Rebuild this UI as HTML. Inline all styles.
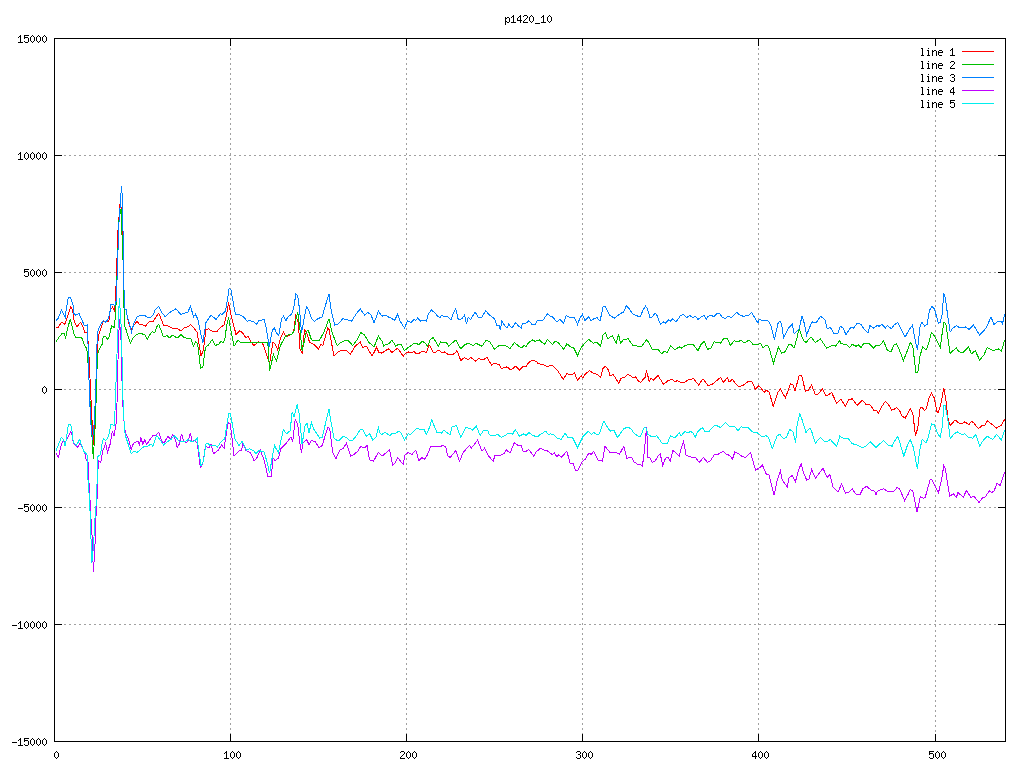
<!DOCTYPE html><html><head><meta charset="utf-8"><title>p1420_10</title><style>html,body{margin:0;padding:0;background:#fff;width:1024px;height:768px;overflow:hidden}body{font-family:"Liberation Sans",sans-serif}svg{display:block}</style></head><body>
<svg width="1024" height="768" viewBox="0 0 1024 768" shape-rendering="crispEdges">
<rect x="0" y="0" width="1024" height="768" fill="#fff"/>
<path fill="#a0a0a0" d="M54 155h2v1h-2zM59 155h2v1h-2zM64 155h2v1h-2zM69 155h2v1h-2zM74 155h2v1h-2zM79 155h2v1h-2zM84 155h2v1h-2zM89 155h2v1h-2zM94 155h2v1h-2zM99 155h2v1h-2zM104 155h2v1h-2zM109 155h2v1h-2zM114 155h2v1h-2zM119 155h2v1h-2zM124 155h2v1h-2zM129 155h2v1h-2zM134 155h2v1h-2zM139 155h2v1h-2zM144 155h2v1h-2zM149 155h2v1h-2zM154 155h2v1h-2zM159 155h2v1h-2zM164 155h2v1h-2zM169 155h2v1h-2zM174 155h2v1h-2zM179 155h2v1h-2zM184 155h2v1h-2zM189 155h2v1h-2zM194 155h2v1h-2zM199 155h2v1h-2zM204 155h2v1h-2zM209 155h2v1h-2zM214 155h2v1h-2zM219 155h2v1h-2zM224 155h2v1h-2zM229 155h2v1h-2zM234 155h2v1h-2zM239 155h2v1h-2zM244 155h2v1h-2zM249 155h2v1h-2zM254 155h2v1h-2zM259 155h2v1h-2zM264 155h2v1h-2zM269 155h2v1h-2zM274 155h2v1h-2zM279 155h2v1h-2zM284 155h2v1h-2zM289 155h2v1h-2zM294 155h2v1h-2zM299 155h2v1h-2zM304 155h2v1h-2zM309 155h2v1h-2zM314 155h2v1h-2zM319 155h2v1h-2zM324 155h2v1h-2zM329 155h2v1h-2zM334 155h2v1h-2zM339 155h2v1h-2zM344 155h2v1h-2zM349 155h2v1h-2zM354 155h2v1h-2zM359 155h2v1h-2zM364 155h2v1h-2zM369 155h2v1h-2zM374 155h2v1h-2zM379 155h2v1h-2zM384 155h2v1h-2zM389 155h2v1h-2zM394 155h2v1h-2zM399 155h2v1h-2zM404 155h2v1h-2zM409 155h2v1h-2zM414 155h2v1h-2zM419 155h2v1h-2zM424 155h2v1h-2zM429 155h2v1h-2zM434 155h2v1h-2zM439 155h2v1h-2zM444 155h2v1h-2zM449 155h2v1h-2zM454 155h2v1h-2zM459 155h2v1h-2zM464 155h2v1h-2zM469 155h2v1h-2zM474 155h2v1h-2zM479 155h2v1h-2zM484 155h2v1h-2zM489 155h2v1h-2zM494 155h2v1h-2zM499 155h2v1h-2zM504 155h2v1h-2zM509 155h2v1h-2zM514 155h2v1h-2zM519 155h2v1h-2zM524 155h2v1h-2zM529 155h2v1h-2zM534 155h2v1h-2zM539 155h2v1h-2zM544 155h2v1h-2zM549 155h2v1h-2zM554 155h2v1h-2zM559 155h2v1h-2zM564 155h2v1h-2zM569 155h2v1h-2zM574 155h2v1h-2zM579 155h2v1h-2zM584 155h2v1h-2zM589 155h2v1h-2zM594 155h2v1h-2zM599 155h2v1h-2zM604 155h2v1h-2zM609 155h2v1h-2zM614 155h2v1h-2zM619 155h2v1h-2zM624 155h2v1h-2zM629 155h2v1h-2zM634 155h2v1h-2zM639 155h2v1h-2zM644 155h2v1h-2zM649 155h2v1h-2zM654 155h2v1h-2zM659 155h2v1h-2zM664 155h2v1h-2zM669 155h2v1h-2zM674 155h2v1h-2zM679 155h2v1h-2zM684 155h2v1h-2zM689 155h2v1h-2zM694 155h2v1h-2zM699 155h2v1h-2zM704 155h2v1h-2zM709 155h2v1h-2zM714 155h2v1h-2zM719 155h2v1h-2zM724 155h2v1h-2zM729 155h2v1h-2zM734 155h2v1h-2zM739 155h2v1h-2zM744 155h2v1h-2zM749 155h2v1h-2zM754 155h2v1h-2zM759 155h2v1h-2zM764 155h2v1h-2zM769 155h2v1h-2zM774 155h2v1h-2zM779 155h2v1h-2zM784 155h2v1h-2zM789 155h2v1h-2zM794 155h2v1h-2zM799 155h2v1h-2zM804 155h2v1h-2zM809 155h2v1h-2zM814 155h2v1h-2zM819 155h2v1h-2zM824 155h2v1h-2zM829 155h2v1h-2zM834 155h2v1h-2zM839 155h2v1h-2zM844 155h2v1h-2zM849 155h2v1h-2zM854 155h2v1h-2zM859 155h2v1h-2zM864 155h2v1h-2zM869 155h2v1h-2zM874 155h2v1h-2zM879 155h2v1h-2zM884 155h2v1h-2zM889 155h2v1h-2zM894 155h2v1h-2zM899 155h2v1h-2zM904 155h2v1h-2zM909 155h2v1h-2zM914 155h2v1h-2zM919 155h2v1h-2zM924 155h2v1h-2zM929 155h2v1h-2zM934 155h2v1h-2zM939 155h2v1h-2zM944 155h2v1h-2zM949 155h2v1h-2zM954 155h2v1h-2zM959 155h2v1h-2zM964 155h2v1h-2zM969 155h2v1h-2zM974 155h2v1h-2zM979 155h2v1h-2zM984 155h2v1h-2zM989 155h2v1h-2zM994 155h2v1h-2zM999 155h2v1h-2zM1004 155h2v1h-2zM54 272h2v1h-2zM59 272h2v1h-2zM64 272h2v1h-2zM69 272h2v1h-2zM74 272h2v1h-2zM79 272h2v1h-2zM84 272h2v1h-2zM89 272h2v1h-2zM94 272h2v1h-2zM99 272h2v1h-2zM104 272h2v1h-2zM109 272h2v1h-2zM114 272h2v1h-2zM119 272h2v1h-2zM124 272h2v1h-2zM129 272h2v1h-2zM134 272h2v1h-2zM139 272h2v1h-2zM144 272h2v1h-2zM149 272h2v1h-2zM154 272h2v1h-2zM159 272h2v1h-2zM164 272h2v1h-2zM169 272h2v1h-2zM174 272h2v1h-2zM179 272h2v1h-2zM184 272h2v1h-2zM189 272h2v1h-2zM194 272h2v1h-2zM199 272h2v1h-2zM204 272h2v1h-2zM209 272h2v1h-2zM214 272h2v1h-2zM219 272h2v1h-2zM224 272h2v1h-2zM229 272h2v1h-2zM234 272h2v1h-2zM239 272h2v1h-2zM244 272h2v1h-2zM249 272h2v1h-2zM254 272h2v1h-2zM259 272h2v1h-2zM264 272h2v1h-2zM269 272h2v1h-2zM274 272h2v1h-2zM279 272h2v1h-2zM284 272h2v1h-2zM289 272h2v1h-2zM294 272h2v1h-2zM299 272h2v1h-2zM304 272h2v1h-2zM309 272h2v1h-2zM314 272h2v1h-2zM319 272h2v1h-2zM324 272h2v1h-2zM329 272h2v1h-2zM334 272h2v1h-2zM339 272h2v1h-2zM344 272h2v1h-2zM349 272h2v1h-2zM354 272h2v1h-2zM359 272h2v1h-2zM364 272h2v1h-2zM369 272h2v1h-2zM374 272h2v1h-2zM379 272h2v1h-2zM384 272h2v1h-2zM389 272h2v1h-2zM394 272h2v1h-2zM399 272h2v1h-2zM404 272h2v1h-2zM409 272h2v1h-2zM414 272h2v1h-2zM419 272h2v1h-2zM424 272h2v1h-2zM429 272h2v1h-2zM434 272h2v1h-2zM439 272h2v1h-2zM444 272h2v1h-2zM449 272h2v1h-2zM454 272h2v1h-2zM459 272h2v1h-2zM464 272h2v1h-2zM469 272h2v1h-2zM474 272h2v1h-2zM479 272h2v1h-2zM484 272h2v1h-2zM489 272h2v1h-2zM494 272h2v1h-2zM499 272h2v1h-2zM504 272h2v1h-2zM509 272h2v1h-2zM514 272h2v1h-2zM519 272h2v1h-2zM524 272h2v1h-2zM529 272h2v1h-2zM534 272h2v1h-2zM539 272h2v1h-2zM544 272h2v1h-2zM549 272h2v1h-2zM554 272h2v1h-2zM559 272h2v1h-2zM564 272h2v1h-2zM569 272h2v1h-2zM574 272h2v1h-2zM579 272h2v1h-2zM584 272h2v1h-2zM589 272h2v1h-2zM594 272h2v1h-2zM599 272h2v1h-2zM604 272h2v1h-2zM609 272h2v1h-2zM614 272h2v1h-2zM619 272h2v1h-2zM624 272h2v1h-2zM629 272h2v1h-2zM634 272h2v1h-2zM639 272h2v1h-2zM644 272h2v1h-2zM649 272h2v1h-2zM654 272h2v1h-2zM659 272h2v1h-2zM664 272h2v1h-2zM669 272h2v1h-2zM674 272h2v1h-2zM679 272h2v1h-2zM684 272h2v1h-2zM689 272h2v1h-2zM694 272h2v1h-2zM699 272h2v1h-2zM704 272h2v1h-2zM709 272h2v1h-2zM714 272h2v1h-2zM719 272h2v1h-2zM724 272h2v1h-2zM729 272h2v1h-2zM734 272h2v1h-2zM739 272h2v1h-2zM744 272h2v1h-2zM749 272h2v1h-2zM754 272h2v1h-2zM759 272h2v1h-2zM764 272h2v1h-2zM769 272h2v1h-2zM774 272h2v1h-2zM779 272h2v1h-2zM784 272h2v1h-2zM789 272h2v1h-2zM794 272h2v1h-2zM799 272h2v1h-2zM804 272h2v1h-2zM809 272h2v1h-2zM814 272h2v1h-2zM819 272h2v1h-2zM824 272h2v1h-2zM829 272h2v1h-2zM834 272h2v1h-2zM839 272h2v1h-2zM844 272h2v1h-2zM849 272h2v1h-2zM854 272h2v1h-2zM859 272h2v1h-2zM864 272h2v1h-2zM869 272h2v1h-2zM874 272h2v1h-2zM879 272h2v1h-2zM884 272h2v1h-2zM889 272h2v1h-2zM894 272h2v1h-2zM899 272h2v1h-2zM904 272h2v1h-2zM909 272h2v1h-2zM914 272h2v1h-2zM919 272h2v1h-2zM924 272h2v1h-2zM929 272h2v1h-2zM934 272h2v1h-2zM939 272h2v1h-2zM944 272h2v1h-2zM949 272h2v1h-2zM954 272h2v1h-2zM959 272h2v1h-2zM964 272h2v1h-2zM969 272h2v1h-2zM974 272h2v1h-2zM979 272h2v1h-2zM984 272h2v1h-2zM989 272h2v1h-2zM994 272h2v1h-2zM999 272h2v1h-2zM1004 272h2v1h-2zM54 389h2v1h-2zM59 389h2v1h-2zM64 389h2v1h-2zM69 389h2v1h-2zM74 389h2v1h-2zM79 389h2v1h-2zM84 389h2v1h-2zM89 389h2v1h-2zM94 389h2v1h-2zM99 389h2v1h-2zM104 389h2v1h-2zM109 389h2v1h-2zM114 389h2v1h-2zM119 389h2v1h-2zM124 389h2v1h-2zM129 389h2v1h-2zM134 389h2v1h-2zM139 389h2v1h-2zM144 389h2v1h-2zM149 389h2v1h-2zM154 389h2v1h-2zM159 389h2v1h-2zM164 389h2v1h-2zM169 389h2v1h-2zM174 389h2v1h-2zM179 389h2v1h-2zM184 389h2v1h-2zM189 389h2v1h-2zM194 389h2v1h-2zM199 389h2v1h-2zM204 389h2v1h-2zM209 389h2v1h-2zM214 389h2v1h-2zM219 389h2v1h-2zM224 389h2v1h-2zM229 389h2v1h-2zM234 389h2v1h-2zM239 389h2v1h-2zM244 389h2v1h-2zM249 389h2v1h-2zM254 389h2v1h-2zM259 389h2v1h-2zM264 389h2v1h-2zM269 389h2v1h-2zM274 389h2v1h-2zM279 389h2v1h-2zM284 389h2v1h-2zM289 389h2v1h-2zM294 389h2v1h-2zM299 389h2v1h-2zM304 389h2v1h-2zM309 389h2v1h-2zM314 389h2v1h-2zM319 389h2v1h-2zM324 389h2v1h-2zM329 389h2v1h-2zM334 389h2v1h-2zM339 389h2v1h-2zM344 389h2v1h-2zM349 389h2v1h-2zM354 389h2v1h-2zM359 389h2v1h-2zM364 389h2v1h-2zM369 389h2v1h-2zM374 389h2v1h-2zM379 389h2v1h-2zM384 389h2v1h-2zM389 389h2v1h-2zM394 389h2v1h-2zM399 389h2v1h-2zM404 389h2v1h-2zM409 389h2v1h-2zM414 389h2v1h-2zM419 389h2v1h-2zM424 389h2v1h-2zM429 389h2v1h-2zM434 389h2v1h-2zM439 389h2v1h-2zM444 389h2v1h-2zM449 389h2v1h-2zM454 389h2v1h-2zM459 389h2v1h-2zM464 389h2v1h-2zM469 389h2v1h-2zM474 389h2v1h-2zM479 389h2v1h-2zM484 389h2v1h-2zM489 389h2v1h-2zM494 389h2v1h-2zM499 389h2v1h-2zM504 389h2v1h-2zM509 389h2v1h-2zM514 389h2v1h-2zM519 389h2v1h-2zM524 389h2v1h-2zM529 389h2v1h-2zM534 389h2v1h-2zM539 389h2v1h-2zM544 389h2v1h-2zM549 389h2v1h-2zM554 389h2v1h-2zM559 389h2v1h-2zM564 389h2v1h-2zM569 389h2v1h-2zM574 389h2v1h-2zM579 389h2v1h-2zM584 389h2v1h-2zM589 389h2v1h-2zM594 389h2v1h-2zM599 389h2v1h-2zM604 389h2v1h-2zM609 389h2v1h-2zM614 389h2v1h-2zM619 389h2v1h-2zM624 389h2v1h-2zM629 389h2v1h-2zM634 389h2v1h-2zM639 389h2v1h-2zM644 389h2v1h-2zM649 389h2v1h-2zM654 389h2v1h-2zM659 389h2v1h-2zM664 389h2v1h-2zM669 389h2v1h-2zM674 389h2v1h-2zM679 389h2v1h-2zM684 389h2v1h-2zM689 389h2v1h-2zM694 389h2v1h-2zM699 389h2v1h-2zM704 389h2v1h-2zM709 389h2v1h-2zM714 389h2v1h-2zM719 389h2v1h-2zM724 389h2v1h-2zM729 389h2v1h-2zM734 389h2v1h-2zM739 389h2v1h-2zM744 389h2v1h-2zM749 389h2v1h-2zM754 389h2v1h-2zM759 389h2v1h-2zM764 389h2v1h-2zM769 389h2v1h-2zM774 389h2v1h-2zM779 389h2v1h-2zM784 389h2v1h-2zM789 389h2v1h-2zM794 389h2v1h-2zM799 389h2v1h-2zM804 389h2v1h-2zM809 389h2v1h-2zM814 389h2v1h-2zM819 389h2v1h-2zM824 389h2v1h-2zM829 389h2v1h-2zM834 389h2v1h-2zM839 389h2v1h-2zM844 389h2v1h-2zM849 389h2v1h-2zM854 389h2v1h-2zM859 389h2v1h-2zM864 389h2v1h-2zM869 389h2v1h-2zM874 389h2v1h-2zM879 389h2v1h-2zM884 389h2v1h-2zM889 389h2v1h-2zM894 389h2v1h-2zM899 389h2v1h-2zM904 389h2v1h-2zM909 389h2v1h-2zM914 389h2v1h-2zM919 389h2v1h-2zM924 389h2v1h-2zM929 389h2v1h-2zM934 389h2v1h-2zM939 389h2v1h-2zM944 389h2v1h-2zM949 389h2v1h-2zM954 389h2v1h-2zM959 389h2v1h-2zM964 389h2v1h-2zM969 389h2v1h-2zM974 389h2v1h-2zM979 389h2v1h-2zM984 389h2v1h-2zM989 389h2v1h-2zM994 389h2v1h-2zM999 389h2v1h-2zM1004 389h2v1h-2zM54 507h2v1h-2zM59 507h2v1h-2zM64 507h2v1h-2zM69 507h2v1h-2zM74 507h2v1h-2zM79 507h2v1h-2zM84 507h2v1h-2zM89 507h2v1h-2zM94 507h2v1h-2zM99 507h2v1h-2zM104 507h2v1h-2zM109 507h2v1h-2zM114 507h2v1h-2zM119 507h2v1h-2zM124 507h2v1h-2zM129 507h2v1h-2zM134 507h2v1h-2zM139 507h2v1h-2zM144 507h2v1h-2zM149 507h2v1h-2zM154 507h2v1h-2zM159 507h2v1h-2zM164 507h2v1h-2zM169 507h2v1h-2zM174 507h2v1h-2zM179 507h2v1h-2zM184 507h2v1h-2zM189 507h2v1h-2zM194 507h2v1h-2zM199 507h2v1h-2zM204 507h2v1h-2zM209 507h2v1h-2zM214 507h2v1h-2zM219 507h2v1h-2zM224 507h2v1h-2zM229 507h2v1h-2zM234 507h2v1h-2zM239 507h2v1h-2zM244 507h2v1h-2zM249 507h2v1h-2zM254 507h2v1h-2zM259 507h2v1h-2zM264 507h2v1h-2zM269 507h2v1h-2zM274 507h2v1h-2zM279 507h2v1h-2zM284 507h2v1h-2zM289 507h2v1h-2zM294 507h2v1h-2zM299 507h2v1h-2zM304 507h2v1h-2zM309 507h2v1h-2zM314 507h2v1h-2zM319 507h2v1h-2zM324 507h2v1h-2zM329 507h2v1h-2zM334 507h2v1h-2zM339 507h2v1h-2zM344 507h2v1h-2zM349 507h2v1h-2zM354 507h2v1h-2zM359 507h2v1h-2zM364 507h2v1h-2zM369 507h2v1h-2zM374 507h2v1h-2zM379 507h2v1h-2zM384 507h2v1h-2zM389 507h2v1h-2zM394 507h2v1h-2zM399 507h2v1h-2zM404 507h2v1h-2zM409 507h2v1h-2zM414 507h2v1h-2zM419 507h2v1h-2zM424 507h2v1h-2zM429 507h2v1h-2zM434 507h2v1h-2zM439 507h2v1h-2zM444 507h2v1h-2zM449 507h2v1h-2zM454 507h2v1h-2zM459 507h2v1h-2zM464 507h2v1h-2zM469 507h2v1h-2zM474 507h2v1h-2zM479 507h2v1h-2zM484 507h2v1h-2zM489 507h2v1h-2zM494 507h2v1h-2zM499 507h2v1h-2zM504 507h2v1h-2zM509 507h2v1h-2zM514 507h2v1h-2zM519 507h2v1h-2zM524 507h2v1h-2zM529 507h2v1h-2zM534 507h2v1h-2zM539 507h2v1h-2zM544 507h2v1h-2zM549 507h2v1h-2zM554 507h2v1h-2zM559 507h2v1h-2zM564 507h2v1h-2zM569 507h2v1h-2zM574 507h2v1h-2zM579 507h2v1h-2zM584 507h2v1h-2zM589 507h2v1h-2zM594 507h2v1h-2zM599 507h2v1h-2zM604 507h2v1h-2zM609 507h2v1h-2zM614 507h2v1h-2zM619 507h2v1h-2zM624 507h2v1h-2zM629 507h2v1h-2zM634 507h2v1h-2zM639 507h2v1h-2zM644 507h2v1h-2zM649 507h2v1h-2zM654 507h2v1h-2zM659 507h2v1h-2zM664 507h2v1h-2zM669 507h2v1h-2zM674 507h2v1h-2zM679 507h2v1h-2zM684 507h2v1h-2zM689 507h2v1h-2zM694 507h2v1h-2zM699 507h2v1h-2zM704 507h2v1h-2zM709 507h2v1h-2zM714 507h2v1h-2zM719 507h2v1h-2zM724 507h2v1h-2zM729 507h2v1h-2zM734 507h2v1h-2zM739 507h2v1h-2zM744 507h2v1h-2zM749 507h2v1h-2zM754 507h2v1h-2zM759 507h2v1h-2zM764 507h2v1h-2zM769 507h2v1h-2zM774 507h2v1h-2zM779 507h2v1h-2zM784 507h2v1h-2zM789 507h2v1h-2zM794 507h2v1h-2zM799 507h2v1h-2zM804 507h2v1h-2zM809 507h2v1h-2zM814 507h2v1h-2zM819 507h2v1h-2zM824 507h2v1h-2zM829 507h2v1h-2zM834 507h2v1h-2zM839 507h2v1h-2zM844 507h2v1h-2zM849 507h2v1h-2zM854 507h2v1h-2zM859 507h2v1h-2zM864 507h2v1h-2zM869 507h2v1h-2zM874 507h2v1h-2zM879 507h2v1h-2zM884 507h2v1h-2zM889 507h2v1h-2zM894 507h2v1h-2zM899 507h2v1h-2zM904 507h2v1h-2zM909 507h2v1h-2zM914 507h2v1h-2zM919 507h2v1h-2zM924 507h2v1h-2zM929 507h2v1h-2zM934 507h2v1h-2zM939 507h2v1h-2zM944 507h2v1h-2zM949 507h2v1h-2zM954 507h2v1h-2zM959 507h2v1h-2zM964 507h2v1h-2zM969 507h2v1h-2zM974 507h2v1h-2zM979 507h2v1h-2zM984 507h2v1h-2zM989 507h2v1h-2zM994 507h2v1h-2zM999 507h2v1h-2zM1004 507h2v1h-2zM54 624h2v1h-2zM59 624h2v1h-2zM64 624h2v1h-2zM69 624h2v1h-2zM74 624h2v1h-2zM79 624h2v1h-2zM84 624h2v1h-2zM89 624h2v1h-2zM94 624h2v1h-2zM99 624h2v1h-2zM104 624h2v1h-2zM109 624h2v1h-2zM114 624h2v1h-2zM119 624h2v1h-2zM124 624h2v1h-2zM129 624h2v1h-2zM134 624h2v1h-2zM139 624h2v1h-2zM144 624h2v1h-2zM149 624h2v1h-2zM154 624h2v1h-2zM159 624h2v1h-2zM164 624h2v1h-2zM169 624h2v1h-2zM174 624h2v1h-2zM179 624h2v1h-2zM184 624h2v1h-2zM189 624h2v1h-2zM194 624h2v1h-2zM199 624h2v1h-2zM204 624h2v1h-2zM209 624h2v1h-2zM214 624h2v1h-2zM219 624h2v1h-2zM224 624h2v1h-2zM229 624h2v1h-2zM234 624h2v1h-2zM239 624h2v1h-2zM244 624h2v1h-2zM249 624h2v1h-2zM254 624h2v1h-2zM259 624h2v1h-2zM264 624h2v1h-2zM269 624h2v1h-2zM274 624h2v1h-2zM279 624h2v1h-2zM284 624h2v1h-2zM289 624h2v1h-2zM294 624h2v1h-2zM299 624h2v1h-2zM304 624h2v1h-2zM309 624h2v1h-2zM314 624h2v1h-2zM319 624h2v1h-2zM324 624h2v1h-2zM329 624h2v1h-2zM334 624h2v1h-2zM339 624h2v1h-2zM344 624h2v1h-2zM349 624h2v1h-2zM354 624h2v1h-2zM359 624h2v1h-2zM364 624h2v1h-2zM369 624h2v1h-2zM374 624h2v1h-2zM379 624h2v1h-2zM384 624h2v1h-2zM389 624h2v1h-2zM394 624h2v1h-2zM399 624h2v1h-2zM404 624h2v1h-2zM409 624h2v1h-2zM414 624h2v1h-2zM419 624h2v1h-2zM424 624h2v1h-2zM429 624h2v1h-2zM434 624h2v1h-2zM439 624h2v1h-2zM444 624h2v1h-2zM449 624h2v1h-2zM454 624h2v1h-2zM459 624h2v1h-2zM464 624h2v1h-2zM469 624h2v1h-2zM474 624h2v1h-2zM479 624h2v1h-2zM484 624h2v1h-2zM489 624h2v1h-2zM494 624h2v1h-2zM499 624h2v1h-2zM504 624h2v1h-2zM509 624h2v1h-2zM514 624h2v1h-2zM519 624h2v1h-2zM524 624h2v1h-2zM529 624h2v1h-2zM534 624h2v1h-2zM539 624h2v1h-2zM544 624h2v1h-2zM549 624h2v1h-2zM554 624h2v1h-2zM559 624h2v1h-2zM564 624h2v1h-2zM569 624h2v1h-2zM574 624h2v1h-2zM579 624h2v1h-2zM584 624h2v1h-2zM589 624h2v1h-2zM594 624h2v1h-2zM599 624h2v1h-2zM604 624h2v1h-2zM609 624h2v1h-2zM614 624h2v1h-2zM619 624h2v1h-2zM624 624h2v1h-2zM629 624h2v1h-2zM634 624h2v1h-2zM639 624h2v1h-2zM644 624h2v1h-2zM649 624h2v1h-2zM654 624h2v1h-2zM659 624h2v1h-2zM664 624h2v1h-2zM669 624h2v1h-2zM674 624h2v1h-2zM679 624h2v1h-2zM684 624h2v1h-2zM689 624h2v1h-2zM694 624h2v1h-2zM699 624h2v1h-2zM704 624h2v1h-2zM709 624h2v1h-2zM714 624h2v1h-2zM719 624h2v1h-2zM724 624h2v1h-2zM729 624h2v1h-2zM734 624h2v1h-2zM739 624h2v1h-2zM744 624h2v1h-2zM749 624h2v1h-2zM754 624h2v1h-2zM759 624h2v1h-2zM764 624h2v1h-2zM769 624h2v1h-2zM774 624h2v1h-2zM779 624h2v1h-2zM784 624h2v1h-2zM789 624h2v1h-2zM794 624h2v1h-2zM799 624h2v1h-2zM804 624h2v1h-2zM809 624h2v1h-2zM814 624h2v1h-2zM819 624h2v1h-2zM824 624h2v1h-2zM829 624h2v1h-2zM834 624h2v1h-2zM839 624h2v1h-2zM844 624h2v1h-2zM849 624h2v1h-2zM854 624h2v1h-2zM859 624h2v1h-2zM864 624h2v1h-2zM869 624h2v1h-2zM874 624h2v1h-2zM879 624h2v1h-2zM884 624h2v1h-2zM889 624h2v1h-2zM894 624h2v1h-2zM899 624h2v1h-2zM904 624h2v1h-2zM909 624h2v1h-2zM914 624h2v1h-2zM919 624h2v1h-2zM924 624h2v1h-2zM929 624h2v1h-2zM934 624h2v1h-2zM939 624h2v1h-2zM944 624h2v1h-2zM949 624h2v1h-2zM954 624h2v1h-2zM959 624h2v1h-2zM964 624h2v1h-2zM969 624h2v1h-2zM974 624h2v1h-2zM979 624h2v1h-2zM984 624h2v1h-2zM989 624h2v1h-2zM994 624h2v1h-2zM999 624h2v1h-2zM1004 624h2v1h-2zM230 38h1v2h-1zM230 43h1v2h-1zM230 48h1v2h-1zM230 53h1v2h-1zM230 58h1v2h-1zM230 63h1v2h-1zM230 68h1v2h-1zM230 73h1v2h-1zM230 78h1v2h-1zM230 83h1v2h-1zM230 88h1v2h-1zM230 93h1v2h-1zM230 98h1v2h-1zM230 103h1v2h-1zM230 108h1v2h-1zM230 113h1v2h-1zM230 118h1v2h-1zM230 123h1v2h-1zM230 128h1v2h-1zM230 133h1v2h-1zM230 138h1v2h-1zM230 143h1v2h-1zM230 148h1v2h-1zM230 153h1v2h-1zM230 158h1v2h-1zM230 163h1v2h-1zM230 168h1v2h-1zM230 173h1v2h-1zM230 178h1v2h-1zM230 183h1v2h-1zM230 188h1v2h-1zM230 193h1v2h-1zM230 198h1v2h-1zM230 203h1v2h-1zM230 208h1v2h-1zM230 213h1v2h-1zM230 218h1v2h-1zM230 223h1v2h-1zM230 228h1v2h-1zM230 233h1v2h-1zM230 238h1v2h-1zM230 243h1v2h-1zM230 248h1v2h-1zM230 253h1v2h-1zM230 258h1v2h-1zM230 263h1v2h-1zM230 268h1v2h-1zM230 273h1v2h-1zM230 278h1v2h-1zM230 283h1v2h-1zM230 288h1v2h-1zM230 293h1v2h-1zM230 298h1v2h-1zM230 303h1v2h-1zM230 308h1v2h-1zM230 313h1v2h-1zM230 318h1v2h-1zM230 323h1v2h-1zM230 328h1v2h-1zM230 333h1v2h-1zM230 338h1v2h-1zM230 343h1v2h-1zM230 348h1v2h-1zM230 353h1v2h-1zM230 358h1v2h-1zM230 363h1v2h-1zM230 368h1v2h-1zM230 373h1v2h-1zM230 378h1v2h-1zM230 383h1v2h-1zM230 388h1v2h-1zM230 393h1v2h-1zM230 398h1v2h-1zM230 403h1v2h-1zM230 408h1v2h-1zM230 413h1v2h-1zM230 418h1v2h-1zM230 423h1v2h-1zM230 428h1v2h-1zM230 433h1v2h-1zM230 438h1v2h-1zM230 443h1v2h-1zM230 448h1v2h-1zM230 453h1v2h-1zM230 458h1v2h-1zM230 463h1v2h-1zM230 468h1v2h-1zM230 473h1v2h-1zM230 478h1v2h-1zM230 483h1v2h-1zM230 488h1v2h-1zM230 493h1v2h-1zM230 498h1v2h-1zM230 503h1v2h-1zM230 508h1v2h-1zM230 513h1v2h-1zM230 518h1v2h-1zM230 523h1v2h-1zM230 528h1v2h-1zM230 533h1v2h-1zM230 538h1v2h-1zM230 543h1v2h-1zM230 548h1v2h-1zM230 553h1v2h-1zM230 558h1v2h-1zM230 563h1v2h-1zM230 568h1v2h-1zM230 573h1v2h-1zM230 578h1v2h-1zM230 583h1v2h-1zM230 588h1v2h-1zM230 593h1v2h-1zM230 598h1v2h-1zM230 603h1v2h-1zM230 608h1v2h-1zM230 613h1v2h-1zM230 618h1v2h-1zM230 623h1v2h-1zM230 628h1v2h-1zM230 633h1v2h-1zM230 638h1v2h-1zM230 643h1v2h-1zM230 648h1v2h-1zM230 653h1v2h-1zM230 658h1v2h-1zM230 663h1v2h-1zM230 668h1v2h-1zM230 673h1v2h-1zM230 678h1v2h-1zM230 683h1v2h-1zM230 688h1v2h-1zM230 693h1v2h-1zM230 698h1v2h-1zM230 703h1v2h-1zM230 708h1v2h-1zM230 713h1v2h-1zM230 718h1v2h-1zM230 723h1v2h-1zM230 728h1v2h-1zM230 733h1v2h-1zM230 738h1v2h-1zM406 38h1v2h-1zM406 43h1v2h-1zM406 48h1v2h-1zM406 53h1v2h-1zM406 58h1v2h-1zM406 63h1v2h-1zM406 68h1v2h-1zM406 73h1v2h-1zM406 78h1v2h-1zM406 83h1v2h-1zM406 88h1v2h-1zM406 93h1v2h-1zM406 98h1v2h-1zM406 103h1v2h-1zM406 108h1v2h-1zM406 113h1v2h-1zM406 118h1v2h-1zM406 123h1v2h-1zM406 128h1v2h-1zM406 133h1v2h-1zM406 138h1v2h-1zM406 143h1v2h-1zM406 148h1v2h-1zM406 153h1v2h-1zM406 158h1v2h-1zM406 163h1v2h-1zM406 168h1v2h-1zM406 173h1v2h-1zM406 178h1v2h-1zM406 183h1v2h-1zM406 188h1v2h-1zM406 193h1v2h-1zM406 198h1v2h-1zM406 203h1v2h-1zM406 208h1v2h-1zM406 213h1v2h-1zM406 218h1v2h-1zM406 223h1v2h-1zM406 228h1v2h-1zM406 233h1v2h-1zM406 238h1v2h-1zM406 243h1v2h-1zM406 248h1v2h-1zM406 253h1v2h-1zM406 258h1v2h-1zM406 263h1v2h-1zM406 268h1v2h-1zM406 273h1v2h-1zM406 278h1v2h-1zM406 283h1v2h-1zM406 288h1v2h-1zM406 293h1v2h-1zM406 298h1v2h-1zM406 303h1v2h-1zM406 308h1v2h-1zM406 313h1v2h-1zM406 318h1v2h-1zM406 323h1v2h-1zM406 328h1v2h-1zM406 333h1v2h-1zM406 338h1v2h-1zM406 343h1v2h-1zM406 348h1v2h-1zM406 353h1v2h-1zM406 358h1v2h-1zM406 363h1v2h-1zM406 368h1v2h-1zM406 373h1v2h-1zM406 378h1v2h-1zM406 383h1v2h-1zM406 388h1v2h-1zM406 393h1v2h-1zM406 398h1v2h-1zM406 403h1v2h-1zM406 408h1v2h-1zM406 413h1v2h-1zM406 418h1v2h-1zM406 423h1v2h-1zM406 428h1v2h-1zM406 433h1v2h-1zM406 438h1v2h-1zM406 443h1v2h-1zM406 448h1v2h-1zM406 453h1v2h-1zM406 458h1v2h-1zM406 463h1v2h-1zM406 468h1v2h-1zM406 473h1v2h-1zM406 478h1v2h-1zM406 483h1v2h-1zM406 488h1v2h-1zM406 493h1v2h-1zM406 498h1v2h-1zM406 503h1v2h-1zM406 508h1v2h-1zM406 513h1v2h-1zM406 518h1v2h-1zM406 523h1v2h-1zM406 528h1v2h-1zM406 533h1v2h-1zM406 538h1v2h-1zM406 543h1v2h-1zM406 548h1v2h-1zM406 553h1v2h-1zM406 558h1v2h-1zM406 563h1v2h-1zM406 568h1v2h-1zM406 573h1v2h-1zM406 578h1v2h-1zM406 583h1v2h-1zM406 588h1v2h-1zM406 593h1v2h-1zM406 598h1v2h-1zM406 603h1v2h-1zM406 608h1v2h-1zM406 613h1v2h-1zM406 618h1v2h-1zM406 623h1v2h-1zM406 628h1v2h-1zM406 633h1v2h-1zM406 638h1v2h-1zM406 643h1v2h-1zM406 648h1v2h-1zM406 653h1v2h-1zM406 658h1v2h-1zM406 663h1v2h-1zM406 668h1v2h-1zM406 673h1v2h-1zM406 678h1v2h-1zM406 683h1v2h-1zM406 688h1v2h-1zM406 693h1v2h-1zM406 698h1v2h-1zM406 703h1v2h-1zM406 708h1v2h-1zM406 713h1v2h-1zM406 718h1v2h-1zM406 723h1v2h-1zM406 728h1v2h-1zM406 733h1v2h-1zM406 738h1v2h-1zM582 38h1v2h-1zM582 43h1v2h-1zM582 48h1v2h-1zM582 53h1v2h-1zM582 58h1v2h-1zM582 63h1v2h-1zM582 68h1v2h-1zM582 73h1v2h-1zM582 78h1v2h-1zM582 83h1v2h-1zM582 88h1v2h-1zM582 93h1v2h-1zM582 98h1v2h-1zM582 103h1v2h-1zM582 108h1v2h-1zM582 113h1v2h-1zM582 118h1v2h-1zM582 123h1v2h-1zM582 128h1v2h-1zM582 133h1v2h-1zM582 138h1v2h-1zM582 143h1v2h-1zM582 148h1v2h-1zM582 153h1v2h-1zM582 158h1v2h-1zM582 163h1v2h-1zM582 168h1v2h-1zM582 173h1v2h-1zM582 178h1v2h-1zM582 183h1v2h-1zM582 188h1v2h-1zM582 193h1v2h-1zM582 198h1v2h-1zM582 203h1v2h-1zM582 208h1v2h-1zM582 213h1v2h-1zM582 218h1v2h-1zM582 223h1v2h-1zM582 228h1v2h-1zM582 233h1v2h-1zM582 238h1v2h-1zM582 243h1v2h-1zM582 248h1v2h-1zM582 253h1v2h-1zM582 258h1v2h-1zM582 263h1v2h-1zM582 268h1v2h-1zM582 273h1v2h-1zM582 278h1v2h-1zM582 283h1v2h-1zM582 288h1v2h-1zM582 293h1v2h-1zM582 298h1v2h-1zM582 303h1v2h-1zM582 308h1v2h-1zM582 313h1v2h-1zM582 318h1v2h-1zM582 323h1v2h-1zM582 328h1v2h-1zM582 333h1v2h-1zM582 338h1v2h-1zM582 343h1v2h-1zM582 348h1v2h-1zM582 353h1v2h-1zM582 358h1v2h-1zM582 363h1v2h-1zM582 368h1v2h-1zM582 373h1v2h-1zM582 378h1v2h-1zM582 383h1v2h-1zM582 388h1v2h-1zM582 393h1v2h-1zM582 398h1v2h-1zM582 403h1v2h-1zM582 408h1v2h-1zM582 413h1v2h-1zM582 418h1v2h-1zM582 423h1v2h-1zM582 428h1v2h-1zM582 433h1v2h-1zM582 438h1v2h-1zM582 443h1v2h-1zM582 448h1v2h-1zM582 453h1v2h-1zM582 458h1v2h-1zM582 463h1v2h-1zM582 468h1v2h-1zM582 473h1v2h-1zM582 478h1v2h-1zM582 483h1v2h-1zM582 488h1v2h-1zM582 493h1v2h-1zM582 498h1v2h-1zM582 503h1v2h-1zM582 508h1v2h-1zM582 513h1v2h-1zM582 518h1v2h-1zM582 523h1v2h-1zM582 528h1v2h-1zM582 533h1v2h-1zM582 538h1v2h-1zM582 543h1v2h-1zM582 548h1v2h-1zM582 553h1v2h-1zM582 558h1v2h-1zM582 563h1v2h-1zM582 568h1v2h-1zM582 573h1v2h-1zM582 578h1v2h-1zM582 583h1v2h-1zM582 588h1v2h-1zM582 593h1v2h-1zM582 598h1v2h-1zM582 603h1v2h-1zM582 608h1v2h-1zM582 613h1v2h-1zM582 618h1v2h-1zM582 623h1v2h-1zM582 628h1v2h-1zM582 633h1v2h-1zM582 638h1v2h-1zM582 643h1v2h-1zM582 648h1v2h-1zM582 653h1v2h-1zM582 658h1v2h-1zM582 663h1v2h-1zM582 668h1v2h-1zM582 673h1v2h-1zM582 678h1v2h-1zM582 683h1v2h-1zM582 688h1v2h-1zM582 693h1v2h-1zM582 698h1v2h-1zM582 703h1v2h-1zM582 708h1v2h-1zM582 713h1v2h-1zM582 718h1v2h-1zM582 723h1v2h-1zM582 728h1v2h-1zM582 733h1v2h-1zM582 738h1v2h-1zM758 38h1v2h-1zM758 43h1v2h-1zM758 48h1v2h-1zM758 53h1v2h-1zM758 58h1v2h-1zM758 63h1v2h-1zM758 68h1v2h-1zM758 73h1v2h-1zM758 78h1v2h-1zM758 83h1v2h-1zM758 88h1v2h-1zM758 93h1v2h-1zM758 98h1v2h-1zM758 103h1v2h-1zM758 108h1v2h-1zM758 113h1v2h-1zM758 118h1v2h-1zM758 123h1v2h-1zM758 128h1v2h-1zM758 133h1v2h-1zM758 138h1v2h-1zM758 143h1v2h-1zM758 148h1v2h-1zM758 153h1v2h-1zM758 158h1v2h-1zM758 163h1v2h-1zM758 168h1v2h-1zM758 173h1v2h-1zM758 178h1v2h-1zM758 183h1v2h-1zM758 188h1v2h-1zM758 193h1v2h-1zM758 198h1v2h-1zM758 203h1v2h-1zM758 208h1v2h-1zM758 213h1v2h-1zM758 218h1v2h-1zM758 223h1v2h-1zM758 228h1v2h-1zM758 233h1v2h-1zM758 238h1v2h-1zM758 243h1v2h-1zM758 248h1v2h-1zM758 253h1v2h-1zM758 258h1v2h-1zM758 263h1v2h-1zM758 268h1v2h-1zM758 273h1v2h-1zM758 278h1v2h-1zM758 283h1v2h-1zM758 288h1v2h-1zM758 293h1v2h-1zM758 298h1v2h-1zM758 303h1v2h-1zM758 308h1v2h-1zM758 313h1v2h-1zM758 318h1v2h-1zM758 323h1v2h-1zM758 328h1v2h-1zM758 333h1v2h-1zM758 338h1v2h-1zM758 343h1v2h-1zM758 348h1v2h-1zM758 353h1v2h-1zM758 358h1v2h-1zM758 363h1v2h-1zM758 368h1v2h-1zM758 373h1v2h-1zM758 378h1v2h-1zM758 383h1v2h-1zM758 388h1v2h-1zM758 393h1v2h-1zM758 398h1v2h-1zM758 403h1v2h-1zM758 408h1v2h-1zM758 413h1v2h-1zM758 418h1v2h-1zM758 423h1v2h-1zM758 428h1v2h-1zM758 433h1v2h-1zM758 438h1v2h-1zM758 443h1v2h-1zM758 448h1v2h-1zM758 453h1v2h-1zM758 458h1v2h-1zM758 463h1v2h-1zM758 468h1v2h-1zM758 473h1v2h-1zM758 478h1v2h-1zM758 483h1v2h-1zM758 488h1v2h-1zM758 493h1v2h-1zM758 498h1v2h-1zM758 503h1v2h-1zM758 508h1v2h-1zM758 513h1v2h-1zM758 518h1v2h-1zM758 523h1v2h-1zM758 528h1v2h-1zM758 533h1v2h-1zM758 538h1v2h-1zM758 543h1v2h-1zM758 548h1v2h-1zM758 553h1v2h-1zM758 558h1v2h-1zM758 563h1v2h-1zM758 568h1v2h-1zM758 573h1v2h-1zM758 578h1v2h-1zM758 583h1v2h-1zM758 588h1v2h-1zM758 593h1v2h-1zM758 598h1v2h-1zM758 603h1v2h-1zM758 608h1v2h-1zM758 613h1v2h-1zM758 618h1v2h-1zM758 623h1v2h-1zM758 628h1v2h-1zM758 633h1v2h-1zM758 638h1v2h-1zM758 643h1v2h-1zM758 648h1v2h-1zM758 653h1v2h-1zM758 658h1v2h-1zM758 663h1v2h-1zM758 668h1v2h-1zM758 673h1v2h-1zM758 678h1v2h-1zM758 683h1v2h-1zM758 688h1v2h-1zM758 693h1v2h-1zM758 698h1v2h-1zM758 703h1v2h-1zM758 708h1v2h-1zM758 713h1v2h-1zM758 718h1v2h-1zM758 723h1v2h-1zM758 728h1v2h-1zM758 733h1v2h-1zM758 738h1v2h-1zM935 110h1v2h-1zM935 115h1v2h-1zM935 120h1v2h-1zM935 125h1v2h-1zM935 130h1v2h-1zM935 135h1v2h-1zM935 140h1v2h-1zM935 145h1v2h-1zM935 150h1v2h-1zM935 155h1v2h-1zM935 160h1v2h-1zM935 165h1v2h-1zM935 170h1v2h-1zM935 175h1v2h-1zM935 180h1v2h-1zM935 185h1v2h-1zM935 190h1v2h-1zM935 195h1v2h-1zM935 200h1v2h-1zM935 205h1v2h-1zM935 210h1v2h-1zM935 215h1v2h-1zM935 220h1v2h-1zM935 225h1v2h-1zM935 230h1v2h-1zM935 235h1v2h-1zM935 240h1v2h-1zM935 245h1v2h-1zM935 250h1v2h-1zM935 255h1v2h-1zM935 260h1v2h-1zM935 265h1v2h-1zM935 270h1v2h-1zM935 275h1v2h-1zM935 280h1v2h-1zM935 285h1v2h-1zM935 290h1v2h-1zM935 295h1v2h-1zM935 300h1v2h-1zM935 305h1v2h-1zM935 310h1v2h-1zM935 315h1v2h-1zM935 320h1v2h-1zM935 325h1v2h-1zM935 330h1v2h-1zM935 335h1v2h-1zM935 340h1v2h-1zM935 345h1v2h-1zM935 350h1v2h-1zM935 355h1v2h-1zM935 360h1v2h-1zM935 365h1v2h-1zM935 370h1v2h-1zM935 375h1v2h-1zM935 380h1v2h-1zM935 385h1v2h-1zM935 390h1v2h-1zM935 395h1v2h-1zM935 400h1v2h-1zM935 405h1v2h-1zM935 410h1v2h-1zM935 415h1v2h-1zM935 420h1v2h-1zM935 425h1v2h-1zM935 430h1v2h-1zM935 435h1v2h-1zM935 440h1v2h-1zM935 445h1v2h-1zM935 450h1v2h-1zM935 455h1v2h-1zM935 460h1v2h-1zM935 465h1v2h-1zM935 470h1v2h-1zM935 475h1v2h-1zM935 480h1v2h-1zM935 485h1v2h-1zM935 490h1v2h-1zM935 495h1v2h-1zM935 500h1v2h-1zM935 505h1v2h-1zM935 510h1v2h-1zM935 515h1v2h-1zM935 520h1v2h-1zM935 525h1v2h-1zM935 530h1v2h-1zM935 535h1v2h-1zM935 540h1v2h-1zM935 545h1v2h-1zM935 550h1v2h-1zM935 555h1v2h-1zM935 560h1v2h-1zM935 565h1v2h-1zM935 570h1v2h-1zM935 575h1v2h-1zM935 580h1v2h-1zM935 585h1v2h-1zM935 590h1v2h-1zM935 595h1v2h-1zM935 600h1v2h-1zM935 605h1v2h-1zM935 610h1v2h-1zM935 615h1v2h-1zM935 620h1v2h-1zM935 625h1v2h-1zM935 630h1v2h-1zM935 635h1v2h-1zM935 640h1v2h-1zM935 645h1v2h-1zM935 650h1v2h-1zM935 655h1v2h-1zM935 660h1v2h-1zM935 665h1v2h-1zM935 670h1v2h-1zM935 675h1v2h-1zM935 680h1v2h-1zM935 685h1v2h-1zM935 690h1v2h-1zM935 695h1v2h-1zM935 700h1v2h-1zM935 705h1v2h-1zM935 710h1v2h-1zM935 715h1v2h-1zM935 720h1v2h-1zM935 725h1v2h-1zM935 730h1v2h-1zM935 735h1v2h-1zM935 740h1v2h-1z"/>
<path fill="#000" d="M54 38h952v1h-952zM54 741h952v1h-952zM54 38h1v704h-1zM1005 38h1v704h-1zM54 38h8v1h-8zM998 38h8v1h-8zM54 155h8v1h-8zM998 155h8v1h-8zM54 272h8v1h-8zM998 272h8v1h-8zM54 389h8v1h-8zM998 389h8v1h-8zM54 507h8v1h-8zM998 507h8v1h-8zM54 624h8v1h-8zM998 624h8v1h-8zM54 741h8v1h-8zM998 741h8v1h-8zM54 734h1v8h-1zM54 38h1v8h-1zM230 734h1v8h-1zM230 38h1v8h-1zM406 734h1v8h-1zM406 38h1v8h-1zM582 734h1v8h-1zM582 38h1v8h-1zM758 734h1v8h-1zM758 38h1v8h-1zM935 734h1v8h-1zM935 38h1v8h-1zM20 35h1v1h-1zM19 36h2v1h-2zM18 37h1v1h-1zM20 37h1v1h-1zM20 38h1v1h-1zM20 39h1v1h-1zM20 40h1v1h-1zM20 41h1v1h-1zM18 42h5v1h-5zM24 35h5v1h-5zM24 36h1v1h-1zM24 37h4v1h-4zM24 38h1v1h-1zM28 38h1v1h-1zM28 39h1v1h-1zM28 40h1v1h-1zM24 41h1v1h-1zM28 41h1v1h-1zM25 42h3v1h-3zM32 35h1v1h-1zM31 36h1v1h-1zM33 36h1v1h-1zM30 37h1v1h-1zM34 37h1v1h-1zM30 38h1v1h-1zM34 38h1v1h-1zM30 39h1v1h-1zM34 39h1v1h-1zM30 40h1v1h-1zM34 40h1v1h-1zM31 41h1v1h-1zM33 41h1v1h-1zM32 42h1v1h-1zM38 35h1v1h-1zM37 36h1v1h-1zM39 36h1v1h-1zM36 37h1v1h-1zM40 37h1v1h-1zM36 38h1v1h-1zM40 38h1v1h-1zM36 39h1v1h-1zM40 39h1v1h-1zM36 40h1v1h-1zM40 40h1v1h-1zM37 41h1v1h-1zM39 41h1v1h-1zM38 42h1v1h-1zM44 35h1v1h-1zM43 36h1v1h-1zM45 36h1v1h-1zM42 37h1v1h-1zM46 37h1v1h-1zM42 38h1v1h-1zM46 38h1v1h-1zM42 39h1v1h-1zM46 39h1v1h-1zM42 40h1v1h-1zM46 40h1v1h-1zM43 41h1v1h-1zM45 41h1v1h-1zM44 42h1v1h-1zM20 152h1v1h-1zM19 153h2v1h-2zM18 154h1v1h-1zM20 154h1v1h-1zM20 155h1v1h-1zM20 156h1v1h-1zM20 157h1v1h-1zM20 158h1v1h-1zM18 159h5v1h-5zM26 152h1v1h-1zM25 153h1v1h-1zM27 153h1v1h-1zM24 154h1v1h-1zM28 154h1v1h-1zM24 155h1v1h-1zM28 155h1v1h-1zM24 156h1v1h-1zM28 156h1v1h-1zM24 157h1v1h-1zM28 157h1v1h-1zM25 158h1v1h-1zM27 158h1v1h-1zM26 159h1v1h-1zM32 152h1v1h-1zM31 153h1v1h-1zM33 153h1v1h-1zM30 154h1v1h-1zM34 154h1v1h-1zM30 155h1v1h-1zM34 155h1v1h-1zM30 156h1v1h-1zM34 156h1v1h-1zM30 157h1v1h-1zM34 157h1v1h-1zM31 158h1v1h-1zM33 158h1v1h-1zM32 159h1v1h-1zM38 152h1v1h-1zM37 153h1v1h-1zM39 153h1v1h-1zM36 154h1v1h-1zM40 154h1v1h-1zM36 155h1v1h-1zM40 155h1v1h-1zM36 156h1v1h-1zM40 156h1v1h-1zM36 157h1v1h-1zM40 157h1v1h-1zM37 158h1v1h-1zM39 158h1v1h-1zM38 159h1v1h-1zM44 152h1v1h-1zM43 153h1v1h-1zM45 153h1v1h-1zM42 154h1v1h-1zM46 154h1v1h-1zM42 155h1v1h-1zM46 155h1v1h-1zM42 156h1v1h-1zM46 156h1v1h-1zM42 157h1v1h-1zM46 157h1v1h-1zM43 158h1v1h-1zM45 158h1v1h-1zM44 159h1v1h-1zM24 269h5v1h-5zM24 270h1v1h-1zM24 271h4v1h-4zM24 272h1v1h-1zM28 272h1v1h-1zM28 273h1v1h-1zM28 274h1v1h-1zM24 275h1v1h-1zM28 275h1v1h-1zM25 276h3v1h-3zM32 269h1v1h-1zM31 270h1v1h-1zM33 270h1v1h-1zM30 271h1v1h-1zM34 271h1v1h-1zM30 272h1v1h-1zM34 272h1v1h-1zM30 273h1v1h-1zM34 273h1v1h-1zM30 274h1v1h-1zM34 274h1v1h-1zM31 275h1v1h-1zM33 275h1v1h-1zM32 276h1v1h-1zM38 269h1v1h-1zM37 270h1v1h-1zM39 270h1v1h-1zM36 271h1v1h-1zM40 271h1v1h-1zM36 272h1v1h-1zM40 272h1v1h-1zM36 273h1v1h-1zM40 273h1v1h-1zM36 274h1v1h-1zM40 274h1v1h-1zM37 275h1v1h-1zM39 275h1v1h-1zM38 276h1v1h-1zM44 269h1v1h-1zM43 270h1v1h-1zM45 270h1v1h-1zM42 271h1v1h-1zM46 271h1v1h-1zM42 272h1v1h-1zM46 272h1v1h-1zM42 273h1v1h-1zM46 273h1v1h-1zM42 274h1v1h-1zM46 274h1v1h-1zM43 275h1v1h-1zM45 275h1v1h-1zM44 276h1v1h-1zM44 386h1v1h-1zM43 387h1v1h-1zM45 387h1v1h-1zM42 388h1v1h-1zM46 388h1v1h-1zM42 389h1v1h-1zM46 389h1v1h-1zM42 390h1v1h-1zM46 390h1v1h-1zM42 391h1v1h-1zM46 391h1v1h-1zM43 392h1v1h-1zM45 392h1v1h-1zM44 393h1v1h-1zM18 508h5v1h-5zM24 504h5v1h-5zM24 505h1v1h-1zM24 506h4v1h-4zM24 507h1v1h-1zM28 507h1v1h-1zM28 508h1v1h-1zM28 509h1v1h-1zM24 510h1v1h-1zM28 510h1v1h-1zM25 511h3v1h-3zM32 504h1v1h-1zM31 505h1v1h-1zM33 505h1v1h-1zM30 506h1v1h-1zM34 506h1v1h-1zM30 507h1v1h-1zM34 507h1v1h-1zM30 508h1v1h-1zM34 508h1v1h-1zM30 509h1v1h-1zM34 509h1v1h-1zM31 510h1v1h-1zM33 510h1v1h-1zM32 511h1v1h-1zM38 504h1v1h-1zM37 505h1v1h-1zM39 505h1v1h-1zM36 506h1v1h-1zM40 506h1v1h-1zM36 507h1v1h-1zM40 507h1v1h-1zM36 508h1v1h-1zM40 508h1v1h-1zM36 509h1v1h-1zM40 509h1v1h-1zM37 510h1v1h-1zM39 510h1v1h-1zM38 511h1v1h-1zM44 504h1v1h-1zM43 505h1v1h-1zM45 505h1v1h-1zM42 506h1v1h-1zM46 506h1v1h-1zM42 507h1v1h-1zM46 507h1v1h-1zM42 508h1v1h-1zM46 508h1v1h-1zM42 509h1v1h-1zM46 509h1v1h-1zM43 510h1v1h-1zM45 510h1v1h-1zM44 511h1v1h-1zM12 625h5v1h-5zM20 621h1v1h-1zM19 622h2v1h-2zM18 623h1v1h-1zM20 623h1v1h-1zM20 624h1v1h-1zM20 625h1v1h-1zM20 626h1v1h-1zM20 627h1v1h-1zM18 628h5v1h-5zM26 621h1v1h-1zM25 622h1v1h-1zM27 622h1v1h-1zM24 623h1v1h-1zM28 623h1v1h-1zM24 624h1v1h-1zM28 624h1v1h-1zM24 625h1v1h-1zM28 625h1v1h-1zM24 626h1v1h-1zM28 626h1v1h-1zM25 627h1v1h-1zM27 627h1v1h-1zM26 628h1v1h-1zM32 621h1v1h-1zM31 622h1v1h-1zM33 622h1v1h-1zM30 623h1v1h-1zM34 623h1v1h-1zM30 624h1v1h-1zM34 624h1v1h-1zM30 625h1v1h-1zM34 625h1v1h-1zM30 626h1v1h-1zM34 626h1v1h-1zM31 627h1v1h-1zM33 627h1v1h-1zM32 628h1v1h-1zM38 621h1v1h-1zM37 622h1v1h-1zM39 622h1v1h-1zM36 623h1v1h-1zM40 623h1v1h-1zM36 624h1v1h-1zM40 624h1v1h-1zM36 625h1v1h-1zM40 625h1v1h-1zM36 626h1v1h-1zM40 626h1v1h-1zM37 627h1v1h-1zM39 627h1v1h-1zM38 628h1v1h-1zM44 621h1v1h-1zM43 622h1v1h-1zM45 622h1v1h-1zM42 623h1v1h-1zM46 623h1v1h-1zM42 624h1v1h-1zM46 624h1v1h-1zM42 625h1v1h-1zM46 625h1v1h-1zM42 626h1v1h-1zM46 626h1v1h-1zM43 627h1v1h-1zM45 627h1v1h-1zM44 628h1v1h-1zM12 742h5v1h-5zM20 738h1v1h-1zM19 739h2v1h-2zM18 740h1v1h-1zM20 740h1v1h-1zM20 741h1v1h-1zM20 742h1v1h-1zM20 743h1v1h-1zM20 744h1v1h-1zM18 745h5v1h-5zM24 738h5v1h-5zM24 739h1v1h-1zM24 740h4v1h-4zM24 741h1v1h-1zM28 741h1v1h-1zM28 742h1v1h-1zM28 743h1v1h-1zM24 744h1v1h-1zM28 744h1v1h-1zM25 745h3v1h-3zM32 738h1v1h-1zM31 739h1v1h-1zM33 739h1v1h-1zM30 740h1v1h-1zM34 740h1v1h-1zM30 741h1v1h-1zM34 741h1v1h-1zM30 742h1v1h-1zM34 742h1v1h-1zM30 743h1v1h-1zM34 743h1v1h-1zM31 744h1v1h-1zM33 744h1v1h-1zM32 745h1v1h-1zM38 738h1v1h-1zM37 739h1v1h-1zM39 739h1v1h-1zM36 740h1v1h-1zM40 740h1v1h-1zM36 741h1v1h-1zM40 741h1v1h-1zM36 742h1v1h-1zM40 742h1v1h-1zM36 743h1v1h-1zM40 743h1v1h-1zM37 744h1v1h-1zM39 744h1v1h-1zM38 745h1v1h-1zM44 738h1v1h-1zM43 739h1v1h-1zM45 739h1v1h-1zM42 740h1v1h-1zM46 740h1v1h-1zM42 741h1v1h-1zM46 741h1v1h-1zM42 742h1v1h-1zM46 742h1v1h-1zM42 743h1v1h-1zM46 743h1v1h-1zM43 744h1v1h-1zM45 744h1v1h-1zM44 745h1v1h-1zM56 751h1v1h-1zM55 752h1v1h-1zM57 752h1v1h-1zM54 753h1v1h-1zM58 753h1v1h-1zM54 754h1v1h-1zM58 754h1v1h-1zM54 755h1v1h-1zM58 755h1v1h-1zM54 756h1v1h-1zM58 756h1v1h-1zM55 757h1v1h-1zM57 757h1v1h-1zM56 758h1v1h-1zM226 751h1v1h-1zM225 752h2v1h-2zM224 753h1v1h-1zM226 753h1v1h-1zM226 754h1v1h-1zM226 755h1v1h-1zM226 756h1v1h-1zM226 757h1v1h-1zM224 758h5v1h-5zM232 751h1v1h-1zM231 752h1v1h-1zM233 752h1v1h-1zM230 753h1v1h-1zM234 753h1v1h-1zM230 754h1v1h-1zM234 754h1v1h-1zM230 755h1v1h-1zM234 755h1v1h-1zM230 756h1v1h-1zM234 756h1v1h-1zM231 757h1v1h-1zM233 757h1v1h-1zM232 758h1v1h-1zM238 751h1v1h-1zM237 752h1v1h-1zM239 752h1v1h-1zM236 753h1v1h-1zM240 753h1v1h-1zM236 754h1v1h-1zM240 754h1v1h-1zM236 755h1v1h-1zM240 755h1v1h-1zM236 756h1v1h-1zM240 756h1v1h-1zM237 757h1v1h-1zM239 757h1v1h-1zM238 758h1v1h-1zM401 751h3v1h-3zM400 752h1v1h-1zM404 752h1v1h-1zM404 753h1v1h-1zM403 754h1v1h-1zM402 755h1v1h-1zM401 756h1v1h-1zM400 757h1v1h-1zM400 758h5v1h-5zM408 751h1v1h-1zM407 752h1v1h-1zM409 752h1v1h-1zM406 753h1v1h-1zM410 753h1v1h-1zM406 754h1v1h-1zM410 754h1v1h-1zM406 755h1v1h-1zM410 755h1v1h-1zM406 756h1v1h-1zM410 756h1v1h-1zM407 757h1v1h-1zM409 757h1v1h-1zM408 758h1v1h-1zM414 751h1v1h-1zM413 752h1v1h-1zM415 752h1v1h-1zM412 753h1v1h-1zM416 753h1v1h-1zM412 754h1v1h-1zM416 754h1v1h-1zM412 755h1v1h-1zM416 755h1v1h-1zM412 756h1v1h-1zM416 756h1v1h-1zM413 757h1v1h-1zM415 757h1v1h-1zM414 758h1v1h-1zM577 751h3v1h-3zM576 752h1v1h-1zM580 752h1v1h-1zM580 753h1v1h-1zM578 754h2v1h-2zM580 755h1v1h-1zM580 756h1v1h-1zM576 757h1v1h-1zM580 757h1v1h-1zM577 758h3v1h-3zM584 751h1v1h-1zM583 752h1v1h-1zM585 752h1v1h-1zM582 753h1v1h-1zM586 753h1v1h-1zM582 754h1v1h-1zM586 754h1v1h-1zM582 755h1v1h-1zM586 755h1v1h-1zM582 756h1v1h-1zM586 756h1v1h-1zM583 757h1v1h-1zM585 757h1v1h-1zM584 758h1v1h-1zM590 751h1v1h-1zM589 752h1v1h-1zM591 752h1v1h-1zM588 753h1v1h-1zM592 753h1v1h-1zM588 754h1v1h-1zM592 754h1v1h-1zM588 755h1v1h-1zM592 755h1v1h-1zM588 756h1v1h-1zM592 756h1v1h-1zM589 757h1v1h-1zM591 757h1v1h-1zM590 758h1v1h-1zM755 751h1v1h-1zM754 752h2v1h-2zM753 753h1v1h-1zM755 753h1v1h-1zM752 754h1v1h-1zM755 754h1v1h-1zM752 755h1v1h-1zM755 755h1v1h-1zM752 756h5v1h-5zM755 757h1v1h-1zM755 758h1v1h-1zM760 751h1v1h-1zM759 752h1v1h-1zM761 752h1v1h-1zM758 753h1v1h-1zM762 753h1v1h-1zM758 754h1v1h-1zM762 754h1v1h-1zM758 755h1v1h-1zM762 755h1v1h-1zM758 756h1v1h-1zM762 756h1v1h-1zM759 757h1v1h-1zM761 757h1v1h-1zM760 758h1v1h-1zM766 751h1v1h-1zM765 752h1v1h-1zM767 752h1v1h-1zM764 753h1v1h-1zM768 753h1v1h-1zM764 754h1v1h-1zM768 754h1v1h-1zM764 755h1v1h-1zM768 755h1v1h-1zM764 756h1v1h-1zM768 756h1v1h-1zM765 757h1v1h-1zM767 757h1v1h-1zM766 758h1v1h-1zM929 751h5v1h-5zM929 752h1v1h-1zM929 753h4v1h-4zM929 754h1v1h-1zM933 754h1v1h-1zM933 755h1v1h-1zM933 756h1v1h-1zM929 757h1v1h-1zM933 757h1v1h-1zM930 758h3v1h-3zM937 751h1v1h-1zM936 752h1v1h-1zM938 752h1v1h-1zM935 753h1v1h-1zM939 753h1v1h-1zM935 754h1v1h-1zM939 754h1v1h-1zM935 755h1v1h-1zM939 755h1v1h-1zM935 756h1v1h-1zM939 756h1v1h-1zM936 757h1v1h-1zM938 757h1v1h-1zM937 758h1v1h-1zM943 751h1v1h-1zM942 752h1v1h-1zM944 752h1v1h-1zM941 753h1v1h-1zM945 753h1v1h-1zM941 754h1v1h-1zM945 754h1v1h-1zM941 755h1v1h-1zM945 755h1v1h-1zM941 756h1v1h-1zM945 756h1v1h-1zM942 757h1v1h-1zM944 757h1v1h-1zM943 758h1v1h-1zM505 17h1v1h-1zM507 17h2v1h-2zM505 18h2v1h-2zM509 18h1v1h-1zM505 19h1v1h-1zM509 19h1v1h-1zM505 20h1v1h-1zM509 20h1v1h-1zM505 21h2v1h-2zM509 21h1v1h-1zM505 22h1v1h-1zM507 22h2v1h-2zM505 23h1v1h-1zM505 24h1v1h-1zM513 15h1v1h-1zM512 16h2v1h-2zM511 17h1v1h-1zM513 17h1v1h-1zM513 18h1v1h-1zM513 19h1v1h-1zM513 20h1v1h-1zM513 21h1v1h-1zM511 22h5v1h-5zM520 15h1v1h-1zM519 16h2v1h-2zM518 17h1v1h-1zM520 17h1v1h-1zM517 18h1v1h-1zM520 18h1v1h-1zM517 19h1v1h-1zM520 19h1v1h-1zM517 20h5v1h-5zM520 21h1v1h-1zM520 22h1v1h-1zM524 15h3v1h-3zM523 16h1v1h-1zM527 16h1v1h-1zM527 17h1v1h-1zM526 18h1v1h-1zM525 19h1v1h-1zM524 20h1v1h-1zM523 21h1v1h-1zM523 22h5v1h-5zM531 15h1v1h-1zM530 16h1v1h-1zM532 16h1v1h-1zM529 17h1v1h-1zM533 17h1v1h-1zM529 18h1v1h-1zM533 18h1v1h-1zM529 19h1v1h-1zM533 19h1v1h-1zM529 20h1v1h-1zM533 20h1v1h-1zM530 21h1v1h-1zM532 21h1v1h-1zM531 22h1v1h-1zM535 23h5v1h-5zM543 15h1v1h-1zM542 16h2v1h-2zM541 17h1v1h-1zM543 17h1v1h-1zM543 18h1v1h-1zM543 19h1v1h-1zM543 20h1v1h-1zM543 21h1v1h-1zM541 22h5v1h-5zM549 15h1v1h-1zM548 16h1v1h-1zM550 16h1v1h-1zM547 17h1v1h-1zM551 17h1v1h-1zM547 18h1v1h-1zM551 18h1v1h-1zM547 19h1v1h-1zM551 19h1v1h-1zM547 20h1v1h-1zM551 20h1v1h-1zM548 21h1v1h-1zM550 21h1v1h-1zM549 22h1v1h-1zM921 48h2v1h-2zM922 49h1v1h-1zM922 50h1v1h-1zM922 51h1v1h-1zM922 52h1v1h-1zM922 53h1v1h-1zM922 54h1v1h-1zM921 55h3v1h-3zM928 48h1v1h-1zM927 50h2v1h-2zM928 51h1v1h-1zM928 52h1v1h-1zM928 53h1v1h-1zM928 54h1v1h-1zM927 55h3v1h-3zM932 50h1v1h-1zM934 50h2v1h-2zM932 51h2v1h-2zM936 51h1v1h-1zM932 52h1v1h-1zM936 52h1v1h-1zM932 53h1v1h-1zM936 53h1v1h-1zM932 54h1v1h-1zM936 54h1v1h-1zM932 55h1v1h-1zM936 55h1v1h-1zM939 50h3v1h-3zM938 51h1v1h-1zM942 51h1v1h-1zM938 52h5v1h-5zM938 53h1v1h-1zM938 54h1v1h-1zM939 55h3v1h-3zM952 48h1v1h-1zM951 49h2v1h-2zM950 50h1v1h-1zM952 50h1v1h-1zM952 51h1v1h-1zM952 52h1v1h-1zM952 53h1v1h-1zM952 54h1v1h-1zM950 55h5v1h-5zM921 61h2v1h-2zM922 62h1v1h-1zM922 63h1v1h-1zM922 64h1v1h-1zM922 65h1v1h-1zM922 66h1v1h-1zM922 67h1v1h-1zM921 68h3v1h-3zM928 61h1v1h-1zM927 63h2v1h-2zM928 64h1v1h-1zM928 65h1v1h-1zM928 66h1v1h-1zM928 67h1v1h-1zM927 68h3v1h-3zM932 63h1v1h-1zM934 63h2v1h-2zM932 64h2v1h-2zM936 64h1v1h-1zM932 65h1v1h-1zM936 65h1v1h-1zM932 66h1v1h-1zM936 66h1v1h-1zM932 67h1v1h-1zM936 67h1v1h-1zM932 68h1v1h-1zM936 68h1v1h-1zM939 63h3v1h-3zM938 64h1v1h-1zM942 64h1v1h-1zM938 65h5v1h-5zM938 66h1v1h-1zM938 67h1v1h-1zM939 68h3v1h-3zM951 61h3v1h-3zM950 62h1v1h-1zM954 62h1v1h-1zM954 63h1v1h-1zM953 64h1v1h-1zM952 65h1v1h-1zM951 66h1v1h-1zM950 67h1v1h-1zM950 68h5v1h-5zM921 74h2v1h-2zM922 75h1v1h-1zM922 76h1v1h-1zM922 77h1v1h-1zM922 78h1v1h-1zM922 79h1v1h-1zM922 80h1v1h-1zM921 81h3v1h-3zM928 74h1v1h-1zM927 76h2v1h-2zM928 77h1v1h-1zM928 78h1v1h-1zM928 79h1v1h-1zM928 80h1v1h-1zM927 81h3v1h-3zM932 76h1v1h-1zM934 76h2v1h-2zM932 77h2v1h-2zM936 77h1v1h-1zM932 78h1v1h-1zM936 78h1v1h-1zM932 79h1v1h-1zM936 79h1v1h-1zM932 80h1v1h-1zM936 80h1v1h-1zM932 81h1v1h-1zM936 81h1v1h-1zM939 76h3v1h-3zM938 77h1v1h-1zM942 77h1v1h-1zM938 78h5v1h-5zM938 79h1v1h-1zM938 80h1v1h-1zM939 81h3v1h-3zM951 74h3v1h-3zM950 75h1v1h-1zM954 75h1v1h-1zM954 76h1v1h-1zM952 77h2v1h-2zM954 78h1v1h-1zM954 79h1v1h-1zM950 80h1v1h-1zM954 80h1v1h-1zM951 81h3v1h-3zM921 87h2v1h-2zM922 88h1v1h-1zM922 89h1v1h-1zM922 90h1v1h-1zM922 91h1v1h-1zM922 92h1v1h-1zM922 93h1v1h-1zM921 94h3v1h-3zM928 87h1v1h-1zM927 89h2v1h-2zM928 90h1v1h-1zM928 91h1v1h-1zM928 92h1v1h-1zM928 93h1v1h-1zM927 94h3v1h-3zM932 89h1v1h-1zM934 89h2v1h-2zM932 90h2v1h-2zM936 90h1v1h-1zM932 91h1v1h-1zM936 91h1v1h-1zM932 92h1v1h-1zM936 92h1v1h-1zM932 93h1v1h-1zM936 93h1v1h-1zM932 94h1v1h-1zM936 94h1v1h-1zM939 89h3v1h-3zM938 90h1v1h-1zM942 90h1v1h-1zM938 91h5v1h-5zM938 92h1v1h-1zM938 93h1v1h-1zM939 94h3v1h-3zM953 87h1v1h-1zM952 88h2v1h-2zM951 89h1v1h-1zM953 89h1v1h-1zM950 90h1v1h-1zM953 90h1v1h-1zM950 91h1v1h-1zM953 91h1v1h-1zM950 92h5v1h-5zM953 93h1v1h-1zM953 94h1v1h-1zM921 100h2v1h-2zM922 101h1v1h-1zM922 102h1v1h-1zM922 103h1v1h-1zM922 104h1v1h-1zM922 105h1v1h-1zM922 106h1v1h-1zM921 107h3v1h-3zM928 100h1v1h-1zM927 102h2v1h-2zM928 103h1v1h-1zM928 104h1v1h-1zM928 105h1v1h-1zM928 106h1v1h-1zM927 107h3v1h-3zM932 102h1v1h-1zM934 102h2v1h-2zM932 103h2v1h-2zM936 103h1v1h-1zM932 104h1v1h-1zM936 104h1v1h-1zM932 105h1v1h-1zM936 105h1v1h-1zM932 106h1v1h-1zM936 106h1v1h-1zM932 107h1v1h-1zM936 107h1v1h-1zM939 102h3v1h-3zM938 103h1v1h-1zM942 103h1v1h-1zM938 104h5v1h-5zM938 105h1v1h-1zM938 106h1v1h-1zM939 107h3v1h-3zM950 100h5v1h-5zM950 101h1v1h-1zM950 102h4v1h-4zM950 103h1v1h-1zM954 103h1v1h-1zM954 104h1v1h-1zM954 105h1v1h-1zM950 106h1v1h-1zM954 106h1v1h-1zM951 107h3v1h-3z"/>
<rect x="962" y="51" width="32" height="1" fill="#ff0000"/>
<rect x="962" y="64" width="32" height="1" fill="#00c000"/>
<rect x="962" y="77" width="32" height="1" fill="#0080ff"/>
<rect x="962" y="90" width="32" height="1" fill="#c000ff"/>
<rect x="962" y="103" width="32" height="1" fill="#00eeee"/>
<polyline fill="none" stroke="#ff0000" stroke-width="1" stroke-linejoin="miter" points="56.1,327.5 58.2,327.5 61.4,322.2 64.9,324.3 68.1,314.5 70.9,306.4 72.6,310.2 74.4,322.2 76.9,326.8 80.7,322.2 83.5,328.5 84.9,332.7 87.0,332.4 88.5,345.0 91.0,400.0 93.3,445.0 95.5,400.0 97.5,345.0 99.0,334.0 103.2,321.5 106.0,321.5 108.8,321.5 110.2,310.6 112.4,307.1 114.5,310.9 115.5,301.1 118.0,230.0 120.4,199.0 122.0,220.0 124.0,290.0 125.0,309.0 126.0,309.4 128.5,322.5 131.0,329.4 134.1,325.0 137.2,321.2 139.8,325.0 142.2,324.4 145.4,326.2 149.1,321.9 152.9,321.9 156.0,316.9 158.8,313.1 163.5,325.0 168.5,326.2 173.5,328.8 177.2,328.1 181.0,331.2 184.8,327.5 187.9,326.9 190.6,324.4 193.5,327.5 197.2,332.5 199.1,345.0 201.0,356.2 203.5,349.4 206.0,329.4 208.5,328.8 212.2,331.2 217.2,331.2 221.0,326.9 224.1,325.0 226.6,315.0 228.5,302.5 230.4,312.5 236.0,334.4 239.8,330.6 243.5,333.8 246.0,338.1 247.9,336.2 251.0,341.9 254.0,345.6 258.4,341.9 260.2,343.1 262.1,341.9 266.5,354.4 269.6,363.8 272.8,342.5 274.6,343.1 277.8,350.0 280.2,338.8 283.4,331.9 285.9,336.9 289.6,335.0 292.8,333.8 294.6,326.2 295.5,314.4 298.4,322.5 300.0,348.8 302.1,353.1 304.6,330.0 307.1,333.8 309.6,342.5 314.0,344.4 318.4,348.8 320.9,344.4 322.8,345.6 327.8,328.1 329.0,329.4 334.0,356.2 339.0,351.2 345.9,350.0 350.2,354.4 355.2,346.2 360.2,341.9 362.8,347.5 366.5,346.2 372.1,356.2 376.5,347.5 379.0,352.5 382.0,353.1 384.5,351.2 386.4,350.0 388.9,348.8 392.0,352.5 397.6,348.1 403.2,356.2 405.8,353.1 408.2,351.9 412.0,353.1 413.9,351.2 415.8,353.1 419.5,353.1 422.0,351.2 426.4,352.5 428.9,345.6 430.1,346.2 433.2,352.5 435.1,353.1 438.2,350.0 442.0,352.5 444.5,351.9 448.9,355.0 454.5,353.8 457.0,350.6 460.8,360.6 464.5,357.5 468.2,360.0 470.8,357.5 475.8,361.2 478.2,358.8 483.9,359.4 487.0,357.5 491.4,365.0 494.5,363.1 499.5,365.0 501.4,368.8 504.5,367.5 507.0,366.9 510.0,369.4 512.5,368.8 515.6,366.2 519.4,370.0 523.1,366.2 526.2,366.2 528.8,362.5 531.2,360.6 536.2,361.2 538.1,363.8 542.5,364.4 546.9,366.2 552.5,365.6 558.1,371.2 563.1,379.4 566.9,373.8 571.9,375.0 574.4,372.5 577.5,380.6 581.2,375.6 583.1,378.1 585.0,374.4 589.4,370.6 593.1,373.1 597.5,374.4 600.6,377.5 603.1,368.1 605.6,366.2 608.8,370.6 610.0,376.2 613.1,374.4 618.8,383.1 621.2,378.1 624.4,377.5 627.5,374.4 630.6,375.6 633.1,378.1 635.6,376.9 638.0,380.6 640.5,382.5 643.6,378.8 644.9,378.1 646.5,370.6 649.2,381.2 651.1,378.1 653.6,380.0 658.0,375.6 660.5,379.4 663.6,384.4 668.0,380.6 672.4,379.4 674.9,381.9 677.4,380.6 680.5,382.5 684.2,382.5 689.2,379.4 693.6,378.8 698.6,385.0 703.0,378.8 708.0,385.6 713.0,383.8 720.5,377.5 723.6,382.5 727.4,377.5 729.2,381.9 732.4,379.4 736.8,385.0 739.2,386.9 743.6,385.0 748.6,381.2 751.8,381.9 755.5,389.4 758.6,385.6 761.1,388.1 764.2,392.5 766.0,390.0 769.1,391.9 773.2,406.2 777.9,392.5 780.4,388.8 785.4,398.1 790.4,383.8 792.9,385.0 795.0,391.2 799.1,375.6 801.6,375.6 805.4,391.2 807.9,390.6 811.6,385.0 815.4,395.0 818.5,393.8 822.2,388.8 825.4,395.0 827.9,395.0 831.6,392.5 836.6,403.1 841.0,399.4 845.4,406.2 848.5,400.0 852.2,398.8 857.2,405.6 862.2,400.0 866.0,404.4 870.4,405.0 873.5,410.0 876.0,410.0 878.5,413.1 881.6,406.9 885.4,401.2 889.1,405.6 891.6,410.0 894.0,409.4 896.5,407.5 899.6,410.6 902.1,416.2 905.2,418.1 910.2,408.8 912.8,413.1 915.5,436.2 917.8,427.5 920.2,407.5 922.1,407.5 924.6,410.6 926.5,408.1 929.0,398.1 931.5,393.1 934.0,397.5 937.1,411.9 938.4,412.5 940.9,403.8 943.8,388.1 945.9,400.0 947.8,417.5 950.2,425.6 954.0,421.2 955.9,420.0 957.8,422.5 961.5,423.8 964.6,421.9 969.0,424.4 971.5,421.2 974.0,423.1 978.4,428.8 982.8,425.0 984.6,425.6 987.1,420.6 992.8,425.0 996.5,428.1 1001.5,425.0 1004.6,419.4"/>
<polyline fill="none" stroke="#00c000" stroke-width="1" stroke-linejoin="miter" points="56.1,341.6 59.3,336.7 62.4,333.2 64.2,333.9 65.6,337.4 67.0,331.4 70.2,319.0 73.0,330.0 74.0,334.2 75.4,337.0 80.4,337.0 82.5,338.8 84.2,344.8 86.7,348.6 87.4,353.2 89.0,380.0 91.0,420.0 93.3,459.0 95.5,420.0 97.0,370.0 97.6,354.6 99.0,349.7 102.5,343.7 103.2,336.3 105.7,336.3 107.4,339.5 109.5,336.0 110.6,330.0 111.7,326.1 114.5,327.5 115.9,308.1 119.0,220.0 121.0,209.0 123.0,260.0 123.8,300.0 124.5,326.0 126.0,329.4 130.4,343.1 132.9,338.1 136.6,334.4 140.4,333.1 144.8,335.0 147.2,339.4 150.4,333.8 152.2,331.9 154.8,332.5 156.6,326.9 158.8,324.4 163.5,336.9 167.2,335.6 169.1,338.1 172.9,335.0 177.2,338.1 181.0,334.4 184.1,337.5 187.9,338.8 191.0,338.8 193.5,346.2 195.4,341.9 197.2,343.1 198.5,350.0 200.4,368.1 202.9,366.9 205.4,347.5 208.5,345.0 212.2,339.4 215.4,345.6 219.1,343.8 221.0,341.2 222.9,343.1 224.8,339.4 226.6,326.2 228.5,317.5 231.0,331.2 234.1,346.2 237.9,340.0 240.4,342.5 246.0,342.5 254.0,342.5 267.8,342.5 269.6,371.2 273.4,354.4 276.5,361.2 280.2,346.2 284.6,337.5 287.8,335.0 291.5,334.4 294.0,331.2 296.5,316.2 297.8,312.5 299.6,326.2 302.1,351.2 306.5,331.2 308.4,330.6 311.5,340.0 316.5,340.6 319.6,340.0 324.0,331.9 329.0,318.8 332.1,332.5 337.1,345.6 340.2,343.1 345.9,340.0 349.0,341.2 352.8,345.6 357.8,338.8 360.9,332.5 364.6,335.0 369.0,342.5 374.0,346.9 378.4,336.2 382.0,341.2 383.9,346.2 385.8,344.4 388.9,343.8 392.0,340.0 395.8,346.2 398.2,344.4 401.4,344.4 404.5,350.6 408.2,347.5 412.0,345.0 414.5,343.1 418.9,344.4 422.6,341.2 425.1,343.1 427.6,346.2 430.1,340.0 433.2,337.5 435.8,341.9 438.2,346.2 440.8,341.9 443.9,342.5 447.0,343.1 448.9,346.2 451.4,343.8 455.8,340.0 460.8,348.8 464.5,345.0 468.2,343.1 473.2,345.6 475.8,343.1 478.2,344.4 482.0,346.2 485.8,340.6 489.5,341.2 494.5,349.4 498.9,345.6 503.2,345.6 507.0,346.2 510.0,348.8 514.4,342.5 521.2,348.1 523.8,345.6 526.2,346.2 528.8,342.5 532.5,340.0 535.0,341.2 539.4,340.0 544.4,344.4 547.5,339.4 552.5,344.4 555.0,341.2 558.1,342.5 563.8,349.4 566.9,343.8 570.6,346.9 573.8,348.1 577.5,355.6 581.2,347.5 585.0,343.1 588.8,339.4 593.1,343.1 596.9,342.5 600.6,346.2 603.1,335.0 605.6,332.5 607.5,338.8 612.5,335.6 616.2,343.1 618.5,334.4 620.6,343.1 623.8,339.4 628.1,338.8 632.5,345.0 638.0,346.2 641.8,346.2 646.8,339.4 652.4,349.4 658.0,349.4 661.8,353.8 664.2,351.2 667.4,352.5 670.5,345.6 674.9,350.0 679.2,346.9 681.8,348.1 684.9,345.6 689.2,344.4 693.0,344.4 698.0,350.6 701.1,344.4 704.2,341.2 707.4,349.4 711.1,348.1 714.2,341.9 717.4,342.5 720.5,343.1 723.6,338.8 727.4,338.8 730.5,345.6 734.2,340.6 738.0,341.9 741.1,340.0 744.2,343.1 749.2,340.0 753.0,344.4 758.0,344.4 760.5,343.1 763.0,348.1 766.0,345.0 768.5,346.2 773.5,363.1 778.5,346.9 781.6,353.1 784.8,351.9 789.1,344.4 791.6,345.0 794.1,348.1 796.6,339.4 799.1,328.8 803.5,340.6 806.0,342.5 811.0,336.9 815.4,342.5 820.4,338.8 826.6,348.1 832.9,345.0 835.4,346.2 839.8,340.6 841.0,343.8 846.0,344.4 849.8,347.5 852.2,344.4 856.0,346.2 858.5,345.0 861.0,347.5 863.5,343.8 868.5,343.1 873.5,348.1 876.0,345.6 880.4,345.0 883.5,340.6 887.2,350.0 891.0,351.9 894.0,345.0 896.5,343.8 899.6,350.6 903.4,360.6 907.1,351.2 910.2,342.5 912.8,346.2 915.9,372.5 917.8,372.5 920.2,355.0 922.8,346.9 925.9,350.0 927.8,346.2 931.5,332.5 934.6,336.2 940.2,347.5 942.1,333.8 944.0,321.9 945.9,323.8 950.2,353.8 952.8,350.6 956.5,348.1 959.0,351.9 962.8,352.5 968.4,346.9 971.5,353.8 975.2,350.6 979.6,360.0 984.0,355.0 987.1,347.5 992.8,350.6 998.4,348.8 1001.5,351.2 1004.6,340.0"/>
<polyline fill="none" stroke="#0080ff" stroke-width="1" stroke-linejoin="miter" points="56.1,320.4 58.2,318.3 61.4,310.2 65.2,317.3 66.7,306.4 68.4,297.2 70.5,297.2 73.0,304.6 73.7,313.0 75.8,315.2 79.0,313.4 81.4,318.7 84.2,325.4 86.3,325.4 87.5,325.0 89.0,380.0 90.5,420.0 92.5,440.0 94.5,420.0 96.0,380.0 97.3,334.0 98.6,328.5 103.2,320.4 105.7,322.2 108.5,318.7 110.2,310.6 110.6,304.3 112.4,304.3 114.8,305.3 115.9,303.9 117.5,270.0 118.5,230.0 121.5,186.0 122.5,200.0 124.0,290.0 125.0,309.0 126.0,309.4 127.2,315.6 129.1,322.5 131.6,331.9 134.1,322.5 137.2,316.9 141.0,315.0 144.8,315.6 149.1,318.1 152.9,315.6 155.4,309.4 158.8,306.2 162.2,313.1 165.4,316.9 169.1,313.1 171.6,311.2 176.0,308.8 178.5,311.9 181.0,314.4 184.8,313.1 187.9,311.9 190.6,306.2 193.5,316.9 195.4,314.4 197.9,319.4 200.4,332.5 202.9,342.5 206.0,322.5 211.0,315.0 216.0,319.4 220.4,313.8 222.2,314.4 225.4,311.2 227.2,301.2 229.1,288.1 231.0,290.0 235.4,314.4 240.4,315.0 244.1,317.5 247.2,321.2 249.8,320.6 254.0,321.9 256.5,324.4 259.0,320.0 261.5,320.6 264.0,318.8 266.5,329.4 269.2,346.9 272.1,331.2 274.2,327.5 276.5,333.1 278.8,335.6 281.5,318.8 283.4,316.2 285.9,320.6 288.4,316.2 291.5,314.4 293.8,307.5 295.9,293.8 297.8,296.2 299.6,310.0 301.5,333.1 303.4,322.5 306.5,306.9 308.4,309.4 311.5,318.8 314.6,321.2 317.8,318.8 322.1,316.9 326.5,301.9 329.0,293.8 330.9,308.8 334.6,325.0 337.8,324.4 342.8,318.8 345.9,319.4 351.5,321.2 355.9,314.4 360.2,308.8 364.6,315.0 367.8,312.5 370.9,314.4 374.0,323.1 378.4,311.2 382.0,316.2 385.1,315.0 388.2,316.9 391.4,318.1 394.5,320.6 397.6,314.4 400.1,321.2 404.5,328.1 407.6,320.6 410.8,322.5 413.9,319.4 415.8,320.6 417.6,318.1 420.8,321.2 423.2,320.0 426.4,321.2 428.2,314.4 431.4,310.0 434.5,312.5 437.6,316.2 440.1,317.5 442.0,315.0 444.5,316.9 447.0,316.2 450.8,320.0 453.2,313.8 455.8,308.8 458.2,319.4 462.0,318.8 464.5,315.0 466.4,323.8 468.2,317.5 470.8,319.4 475.1,311.9 478.9,318.1 482.0,316.9 485.8,310.6 488.2,313.8 492.0,316.9 494.5,318.8 497.0,326.2 498.9,325.0 500.5,330.0 501.8,321.2 503.9,324.4 507.0,328.1 508.9,323.8 510.0,326.2 511.9,328.1 515.6,322.5 518.1,325.6 521.2,328.1 522.5,323.8 526.2,323.1 528.8,320.6 531.9,324.4 535.0,324.4 537.5,320.6 543.1,320.0 547.5,313.8 550.0,316.2 552.5,316.9 556.9,321.9 560.0,319.4 563.8,323.1 566.2,315.6 570.0,317.5 574.4,317.5 577.5,324.4 580.0,318.1 582.5,314.4 585.0,320.6 588.8,316.9 590.6,320.6 593.8,318.8 596.9,317.5 600.0,321.2 603.1,306.9 605.6,306.9 609.4,315.0 614.4,318.1 620.0,313.8 623.8,311.9 626.2,305.6 629.4,308.8 632.5,313.8 638.0,316.2 640.5,316.2 643.0,310.0 645.5,306.2 647.4,308.8 649.9,317.5 651.8,317.5 654.9,313.1 656.8,315.0 660.5,324.4 663.6,321.9 665.5,323.1 668.6,320.0 670.5,321.2 672.4,318.8 676.1,321.9 680.5,315.6 683.0,314.4 686.8,317.5 689.9,315.6 693.0,317.5 695.5,316.2 698.0,319.4 701.1,316.9 704.2,315.6 706.5,319.4 708.0,316.2 711.8,315.6 713.6,316.9 717.4,313.1 719.9,313.8 722.4,317.5 725.5,318.8 728.0,316.2 731.1,317.5 734.2,315.0 736.8,312.5 739.9,315.0 743.0,316.2 748.0,315.6 751.8,312.5 754.9,318.1 758.0,323.1 759.2,319.4 763.0,320.6 766.0,320.0 768.5,321.2 771.0,326.2 774.5,339.4 777.9,323.8 779.8,321.2 781.6,323.8 783.5,338.1 788.5,328.1 792.2,324.4 794.1,333.8 796.6,331.2 799.1,328.8 802.0,316.2 803.5,320.0 806.6,335.0 810.4,325.6 812.2,321.9 816.0,323.1 820.4,316.2 824.8,319.4 827.2,328.8 830.4,327.5 834.1,333.8 837.9,333.1 840.4,326.2 842.9,328.1 846.0,334.4 851.0,326.9 853.5,328.1 857.2,323.1 861.0,324.4 864.8,330.0 867.9,333.1 869.8,325.6 873.5,328.1 877.2,325.6 879.1,326.2 882.2,324.4 885.4,328.1 887.2,325.6 891.6,328.8 894.0,325.0 897.8,322.5 900.9,328.8 905.2,336.9 909.0,330.0 912.5,325.0 914.6,337.5 917.5,350.0 920.2,325.0 922.1,322.5 924.6,326.2 927.1,324.4 929.6,310.0 932.1,306.2 934.6,309.4 938.4,323.1 940.2,322.5 942.1,315.0 943.8,293.1 945.2,297.5 947.8,316.2 950.2,331.9 952.8,328.1 956.5,325.6 959.0,327.5 962.1,328.1 965.2,326.9 969.0,329.4 973.4,325.0 976.5,330.0 979.6,335.0 982.8,331.9 986.5,327.5 990.9,316.9 994.0,324.4 997.1,321.9 1000.9,321.2 1002.5,323.8 1004.6,314.4"/>
<polyline fill="none" stroke="#c000ff" stroke-width="1" stroke-linejoin="miter" points="56.1,453.0 58.6,457.6 60.3,448.8 62.4,441.8 65.6,441.4 68.1,436.9 70.9,431.2 72.6,437.6 73.3,442.9 77.6,447.4 80.0,442.9 82.1,447.4 84.9,453.0 86.3,460.1 88.5,462.2 88.5,474.0 90.0,500.0 91.2,522.0 92.5,543.0 93.3,572.0 94.8,551.0 95.9,518.0 97.0,500.0 98.3,460.1 100.8,462.5 102.5,451.6 105.7,443.2 107.4,452.3 110.2,443.9 112.4,431.2 114.1,436.2 115.5,427.0 116.6,420.0 118.0,360.0 119.4,319.0 121.0,340.0 122.5,400.0 124.5,428.0 126.0,434.4 128.5,438.8 131.2,449.4 133.5,443.1 136.0,441.9 137.9,441.2 139.5,445.0 140.8,437.5 142.9,444.4 144.8,439.4 146.6,444.4 148.5,441.9 151.0,438.1 153.5,435.0 156.0,435.0 158.8,432.5 161.6,441.2 164.1,443.1 167.9,436.2 170.4,438.8 172.9,434.4 175.4,439.4 177.2,447.5 179.1,444.4 181.6,433.8 183.5,440.6 186.0,443.1 188.5,440.0 190.4,433.1 192.2,441.9 194.1,440.0 197.2,443.1 200.4,467.5 202.9,463.1 205.4,446.2 209.1,448.1 211.0,443.8 213.5,453.8 218.5,450.0 221.6,445.0 224.1,448.1 226.0,435.6 227.9,422.5 230.4,424.4 234.1,456.2 238.5,451.2 241.6,450.0 242.9,442.5 246.0,450.6 250.4,452.5 254.0,460.6 256.5,458.8 260.2,450.0 263.4,458.1 265.2,464.4 267.8,476.2 271.5,476.9 272.8,457.5 275.2,460.6 278.4,458.1 280.9,448.8 284.6,445.0 287.8,441.2 290.9,436.9 292.8,441.2 295.2,419.4 297.8,425.0 299.6,441.2 301.5,453.1 302.8,443.1 306.5,439.4 309.0,444.4 311.5,440.6 315.2,441.9 319.0,447.5 322.1,445.6 327.8,427.5 329.6,428.1 332.8,452.5 335.9,458.8 340.2,449.4 342.8,448.8 346.5,443.1 350.9,456.2 354.0,454.4 357.8,451.2 360.9,446.2 364.0,448.1 367.1,445.6 369.6,460.0 373.4,461.2 378.4,452.5 382.0,456.2 385.8,453.1 389.5,449.4 392.6,465.0 395.1,463.1 397.6,457.5 403.2,464.4 405.1,455.0 408.2,452.5 412.0,454.4 415.8,450.0 418.9,460.6 422.0,457.5 424.5,459.4 427.0,455.6 430.8,446.2 440.8,446.2 443.2,445.6 445.8,446.9 447.6,455.6 450.1,457.5 455.8,450.6 459.5,461.2 463.2,452.5 467.0,448.1 469.5,445.6 471.4,448.1 477.6,440.0 482.0,451.2 484.5,448.1 488.2,455.6 493.2,461.2 495.1,455.0 500.8,455.0 503.9,453.8 506.4,450.0 510.0,453.1 514.4,442.5 517.5,445.0 521.2,445.6 523.1,451.2 526.2,451.2 528.8,449.4 533.8,456.2 536.2,451.9 540.6,448.1 543.8,450.0 546.9,450.6 551.9,454.4 554.4,453.1 556.9,456.9 558.8,454.4 561.2,457.5 566.9,451.2 570.0,463.1 573.1,463.8 575.6,470.6 578.1,470.0 582.5,461.2 585.6,458.8 588.8,453.1 591.2,454.4 593.8,451.2 598.1,460.0 602.5,461.2 605.0,446.2 610.0,452.5 616.2,452.5 619.4,454.4 623.8,446.2 626.9,458.1 631.9,457.5 633.8,461.9 638.0,464.4 640.5,464.4 642.4,466.2 644.2,452.5 645.8,435.6 646.5,426.9 647.4,442.5 648.0,457.5 649.9,457.5 652.4,462.5 654.9,461.2 658.0,456.2 660.2,453.8 662.8,465.6 665.5,458.1 668.0,457.5 670.2,461.2 672.8,450.6 675.5,452.5 679.2,456.2 681.8,446.2 683.6,441.2 686.1,455.6 689.2,456.2 693.0,458.1 695.5,457.5 699.2,462.5 703.6,457.5 707.4,462.5 710.5,460.6 714.2,455.0 718.0,454.4 721.1,452.5 723.6,451.2 725.5,453.8 729.9,455.6 732.4,459.4 734.9,451.9 737.4,453.1 741.8,456.2 745.5,457.5 750.5,452.5 755.5,470.0 759.2,468.1 762.4,465.0 766.0,473.8 769.1,475.0 771.6,485.0 774.1,495.0 777.2,480.0 780.4,471.2 782.2,480.0 787.2,486.9 789.1,477.5 792.2,475.6 795.4,481.9 798.5,470.0 801.2,463.8 803.5,472.5 806.6,480.0 809.1,478.8 811.6,469.4 815.4,478.1 818.5,474.4 822.9,468.1 827.2,477.5 829.8,474.4 832.9,486.9 837.2,491.2 838.5,491.2 841.6,483.8 845.4,493.1 849.1,491.9 852.2,488.8 855.4,493.8 859.8,495.0 862.9,488.8 866.6,486.2 871.0,490.0 874.8,491.2 876.0,495.0 877.2,491.2 883.5,488.8 887.2,491.2 894.0,491.2 897.1,487.5 899.6,488.8 904.6,500.6 907.8,495.0 910.2,489.4 912.8,491.2 917.1,511.9 920.2,496.9 923.4,498.1 925.2,497.5 930.2,479.4 932.1,480.0 938.4,493.1 941.5,480.0 943.8,465.6 945.2,468.1 949.6,496.2 953.4,493.8 956.5,497.5 957.8,492.5 961.5,495.6 963.4,496.9 966.5,490.6 970.9,497.5 974.0,496.2 979.0,502.5 982.8,497.5 985.2,496.9 989.6,490.6 991.5,492.5 994.0,491.2 997.1,483.1 1000.2,485.6 1004.6,471.9"/>
<polyline fill="none" stroke="#00eeee" stroke-width="1" stroke-linejoin="miter" points="56.1,450.6 59.3,442.5 61.4,437.2 63.1,439.3 65.2,446.4 67.0,434.1 68.4,424.2 70.5,424.2 71.9,430.2 73.3,442.5 76.5,445.3 79.7,439.3 81.1,443.9 84.2,452.0 87.0,454.5 87.6,474.0 89.5,500.0 90.5,522.0 91.3,548.0 91.9,562.5 93.5,546.0 95.0,518.0 96.5,500.0 97.9,456.6 100.4,454.5 102.5,441.1 103.9,438.6 105.7,440.7 108.5,436.5 110.2,428.1 110.6,424.6 114.5,425.3 117.5,340.0 119.4,298.0 121.4,330.0 123.0,400.0 124.5,430.0 126.0,437.5 128.5,445.0 131.2,453.8 134.1,451.2 137.2,452.5 141.0,448.8 144.8,446.2 147.2,446.9 151.0,443.8 152.9,446.2 156.6,435.6 159.8,439.4 163.5,445.0 167.2,441.9 171.0,439.4 174.1,435.6 176.6,438.1 179.1,441.2 181.6,441.9 185.4,441.2 188.5,439.4 191.6,441.9 194.8,440.6 197.2,438.1 198.5,448.8 201.0,466.2 203.5,460.6 206.0,443.8 207.9,443.1 209.8,445.6 214.8,445.0 217.2,447.5 221.0,441.9 224.8,438.8 226.0,430.6 227.9,418.8 228.5,413.8 230.4,413.8 231.6,420.0 234.8,438.8 239.1,445.6 242.2,441.2 246.6,450.0 249.8,448.8 254.0,451.2 255.9,453.8 259.0,450.6 264.0,451.9 266.5,460.0 269.6,473.1 272.8,453.8 274.6,445.6 278.4,453.1 280.9,440.6 283.4,429.4 286.5,433.8 290.2,430.6 292.1,411.9 294.0,416.9 297.1,404.4 299.0,413.1 302.1,444.4 305.2,424.4 307.1,423.8 309.0,432.5 311.5,422.5 314.0,429.4 319.6,438.1 322.1,437.5 325.9,421.9 329.0,409.4 330.9,421.2 334.0,438.1 337.1,440.6 339.6,440.0 343.4,436.2 346.5,437.5 349.6,440.6 352.8,440.0 357.1,435.0 360.2,429.4 362.8,430.0 366.5,436.2 369.6,433.8 372.8,440.0 375.9,437.5 378.4,427.5 380.2,433.8 382.0,434.4 385.1,432.5 390.1,435.6 392.6,433.1 395.8,433.1 398.9,431.2 400.8,432.5 404.5,440.0 408.2,433.8 410.8,434.4 417.0,428.1 420.8,430.0 423.9,429.4 426.4,434.4 429.5,427.5 431.8,419.4 434.5,426.9 437.0,432.5 439.5,432.5 441.4,433.1 443.9,430.0 446.4,432.5 450.1,434.4 452.0,426.9 456.4,425.6 460.8,437.5 465.8,427.5 470.8,428.8 472.6,430.0 476.4,426.2 480.1,435.6 483.9,430.0 487.6,430.0 489.5,435.0 494.5,435.6 497.6,434.4 501.4,437.5 505.1,435.6 507.6,433.8 510.0,433.1 512.5,434.4 515.2,429.4 519.4,436.2 523.8,433.8 526.2,435.6 528.8,432.5 533.1,435.6 537.5,436.9 539.4,435.0 545.6,431.2 548.8,435.0 550.6,433.8 553.8,435.0 556.9,438.1 561.2,439.4 565.0,433.1 568.1,437.5 572.5,437.5 577.5,447.5 581.9,438.8 583.1,436.2 588.1,431.2 591.2,434.4 593.8,432.5 596.2,434.4 598.8,435.0 603.8,421.2 608.8,429.4 610.6,431.2 613.8,430.0 617.5,437.5 623.8,428.8 628.1,426.9 631.9,430.0 633.8,433.1 638.0,436.2 640.5,436.2 644.2,427.5 646.1,428.1 648.0,434.4 651.8,436.9 654.2,436.9 656.8,435.6 662.4,443.8 667.4,443.1 670.5,435.6 674.9,438.1 679.2,432.5 681.1,436.2 684.9,431.2 688.0,433.1 690.5,431.2 693.0,433.1 695.2,437.5 697.4,431.9 702.4,427.5 704.9,431.2 709.2,431.2 714.2,425.6 716.8,425.6 720.5,427.5 725.5,422.5 729.9,426.9 734.2,426.2 738.0,430.6 741.1,426.9 748.0,427.5 752.4,431.9 756.8,432.5 762.4,436.9 766.0,435.6 768.5,437.5 772.2,448.8 777.2,435.6 779.8,434.4 783.5,438.8 786.6,436.9 789.8,429.4 792.9,431.9 795.6,442.5 797.2,423.8 799.8,413.8 802.2,420.0 806.0,432.5 809.8,428.1 811.6,431.2 815.4,443.1 820.4,437.5 824.8,441.9 827.9,441.2 830.4,439.4 832.9,442.5 836.6,446.2 839.8,436.2 843.5,438.1 847.9,438.1 852.2,443.8 856.0,444.4 862.2,447.5 866.0,446.2 870.4,441.9 876.0,447.5 879.8,443.8 883.5,440.6 887.9,445.0 892.2,446.2 894.0,441.9 897.8,436.2 900.2,443.8 903.8,456.2 907.1,446.2 910.2,439.4 913.4,447.5 917.4,469.4 919.6,451.2 922.1,439.4 925.9,443.1 927.8,438.8 931.5,423.8 934.0,424.4 937.8,433.8 940.2,436.9 942.1,427.5 944.0,405.0 945.2,405.6 947.8,418.8 950.2,438.8 954.0,433.8 957.8,431.9 962.1,435.0 964.6,433.8 967.8,436.9 972.8,438.1 975.9,434.4 979.6,446.2 983.4,440.0 987.1,436.2 992.8,439.4 996.5,434.4 1001.5,440.0 1004.6,430.0"/>
</svg></body></html>
